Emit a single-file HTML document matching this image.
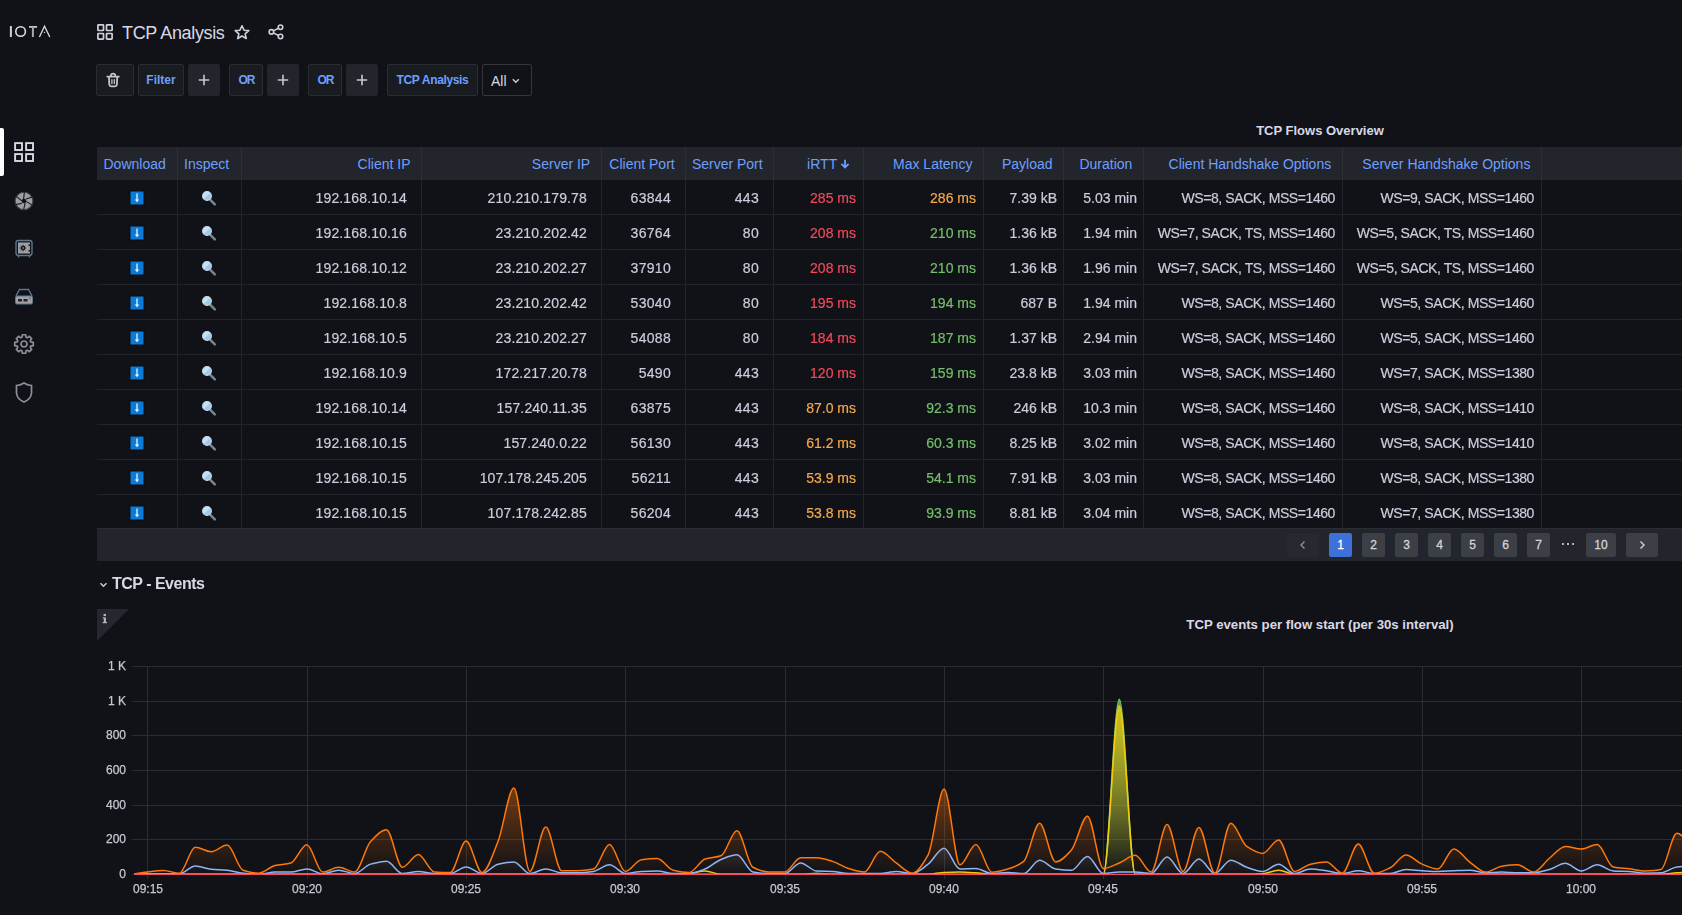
<!DOCTYPE html>
<html><head><meta charset="utf-8">
<style>
*{box-sizing:border-box;margin:0;padding:0}
html,body{width:1682px;height:915px;overflow:hidden;background:#111217;font-family:"Liberation Sans",sans-serif;color:#ccccdc}
.a{position:absolute}
.t{position:absolute;white-space:nowrap}
.btn{position:absolute;top:64px;height:32px;border:1px solid #2a2c32;background:#181b1f;border-radius:2px}
.plus{background:#22252b;border-color:#22252b}
.pg{position:absolute;top:533px;height:24px;border-radius:2px;background:#3d3f46}
</style></head><body>

<svg class="a" style="left:0;top:20px" width="60" height="22" viewBox="0 20 60 22"><g fill="none" stroke="#dcdce2"><path d="M10.9 26V37" stroke-width="2" stroke="#d0d0d6"/><circle cx="20.6" cy="31.5" r="4.8" stroke-width="1.6"/><path d="M29 26.9H37.1" stroke-width="1.8" stroke="#c8c8cc"/><path d="M32.9 26.5V37" stroke-width="2" stroke="#a8a8ac"/><path d="M39.4 37L44.5 26.3L49.8 37" stroke-width="1.3" stroke-linejoin="miter"/></g><circle cx="44.5" cy="32.4" r="0.7" fill="#dcdce2"/></svg>
<div class="a" style="left:0;top:128px;width:4px;height:48px;background:#fff;border-radius:0 2px 2px 0"></div>
<svg class="a" style="left:0;top:0" width="48" height="420" viewBox="0 0 48 420">
<g fill="none" stroke="#d8d8e6" stroke-width="1.9">
<rect x="15.1" y="143.1" width="6.9" height="6.9"/><rect x="26.1" y="143.1" width="6.9" height="6.9"/>
<rect x="15.1" y="154.1" width="6.9" height="6.9"/><rect x="26.1" y="154.1" width="6.9" height="6.9"/>
</g>
<g transform="translate(24,201)">
<circle r="8.8" fill="#9c9ea2" stroke="#3a4b5a" stroke-width="1.1"/>
<g stroke="#15171b" stroke-width="1.1" fill="none">
<path d="M-0.4 -2 L0.4 -8.9"/><path d="M2 -2 L8.2 -4.1"/><path d="M2.2 0.4 L7.6 3.9"/>
<path d="M1.2 1.8 L-0.4 8.9"/><path d="M-2 2.2 L-8.2 3.6"/><path d="M-2.2 -0.1 L-7.6 -4.7"/>
</g>
<circle r="2.3" fill="#111217"/>
</g>
<g>
<rect x="16" y="240.5" width="16" height="15" rx="2.5" fill="none" stroke="#5f7588" stroke-width="1.4"/>
<rect x="18" y="242.5" width="12" height="11" fill="#9ea0a6"/>
<circle cx="23" cy="248" r="2.3" fill="#1a1c20"/><path d="M23 244.6V251.4M19.6 248H26.4M20.6 245.6L25.4 250.4M25.4 245.6L20.6 250.4" stroke="#1a1c20" stroke-width="0.9"/><circle cx="23" cy="248" r="0.8" fill="#b0b2b8"/>
<path d="M29.2 244.2v2M29.2 249.8v2" stroke="#1a1c20" stroke-width="1.3"/>
<path d="M18.5 256v1.5M29.5 256v1.5" stroke="#5f7588" stroke-width="1.4"/>
</g>
<g>
<path d="M16 296 L19.5 289.5 H28.5 L32 296" fill="none" stroke="#5f7588" stroke-width="1.4"/>
<rect x="15.5" y="296" width="17" height="8" rx="1.5" fill="#9ea0a6" stroke="#5f7588" stroke-width="1"/>
<rect x="18" y="299" width="4" height="2.5" fill="#222"/><rect x="23.5" y="299" width="4" height="2.5" fill="#222"/>
<rect x="29" y="297.5" width="1.8" height="1.8" fill="#5f7588"/>
</g>
<g transform="translate(24,344)" fill="none" stroke="#8d8e98" stroke-width="1.7">
<path d="M6.69 -2.05 L9.26 -1.63 L9.26 1.63 L6.69 2.05 L6.18 3.29 L7.70 5.39 L5.39 7.70 L3.29 6.18 L2.05 6.69 L1.63 9.26 L-1.63 9.26 L-2.05 6.69 L-3.29 6.18 L-5.39 7.70 L-7.70 5.39 L-6.18 3.29 L-6.69 2.05 L-9.26 1.63 L-9.26 -1.63 L-6.69 -2.05 L-6.18 -3.29 L-7.70 -5.39 L-5.39 -7.70 L-3.29 -6.18 L-2.05 -6.69 L-1.63 -9.26 L1.63 -9.26 L2.05 -6.69 L3.29 -6.18 L5.39 -7.70 L7.70 -5.39 L6.18 -3.29 Z" stroke-linejoin="round"/>
<circle r="3"/>
</g>
<path d="M24 383 Q28 385.5 31.5 385.5 V393 Q31 399 24 402 Q17 399 16.5 393 V385.5 Q20 385.5 24 383 Z" fill="none" stroke="#8d8e98" stroke-width="1.7"/>
</svg>
<svg class="a" style="left:96px;top:23px" width="18" height="18" viewBox="0 0 18 18"><g fill="none" stroke="#d2d2de" stroke-width="1.7"><rect x="1.9" y="1.9" width="5.6" height="5.6" rx="0.6"/><rect x="10.5" y="1.9" width="5.6" height="5.6" rx="0.6"/><rect x="1.9" y="10.5" width="5.6" height="5.6" rx="0.6"/><rect x="10.5" y="10.5" width="5.6" height="5.6" rx="0.6"/></g></svg>
<div class="t" style="left:122px;top:24.00px;font-size:18px;line-height:18px;color:#d8d9e6;font-weight:400;letter-spacing:-0.35px">TCP Analysis</div>
<svg class="a" style="left:232px;top:23px" width="20" height="18" viewBox="0 0 20 18"><path d="M10.00 2.72 L12.05 7.18 L16.79 7.65 L13.16 10.81 L14.28 15.55 L10.00 13.04 L5.72 15.55 L6.84 10.81 L3.21 7.65 L7.95 7.18 Z" fill="none" stroke="#d0d0dc" stroke-width="1.6" stroke-linejoin="round"/></svg>
<svg class="a" style="left:266px;top:23px" width="20" height="18" viewBox="0 0 20 18"><g fill="none" stroke="#d0d0dc" stroke-width="1.6"><circle cx="14.5" cy="4.3" r="2.25"/><circle cx="5.4" cy="8.9" r="2.25"/><circle cx="14.5" cy="13.5" r="2.25"/><path d="M7.4 7.9 L12.5 5.3 M7.4 9.9 L12.5 12.5"/></g></svg>
<div class="btn" style="left:96px;width:38px;"></div>
<svg class="a" style="left:104px;top:71px" width="18" height="18" viewBox="104 71 18 18"><g fill="none" stroke="#c4c4ce" stroke-width="1.8" stroke-linecap="round"><path d="M109 77.2 L109.3 84.6 Q109.5 86.3 111.2 86.3 H115 Q116.7 86.3 116.9 84.6 L117.2 77.2"/><path d="M107.3 76.6 H118.9"/><path d="M111 76.4 V75.5 Q111 73.6 113.1 73.6 Q115.2 73.6 115.2 75.5 V76.4"/><path d="M111.9 79.6 V83.6 M114.3 79.6 V83.6" stroke-width="1.3"/></g></svg>
<div class="btn" style="left:138px;width:46px;"></div>
<div class="t" style="left:-239px;width:800px;text-align:center;top:74.00px;font-size:12px;line-height:12px;color:#6e9fff;font-weight:700;">Filter</div>
<div class="btn plus" style="left:188px;width:32px;"></div>
<div class="btn" style="left:229px;width:34px;"></div>
<div class="t" style="left:-153.5px;width:800px;text-align:center;top:74.00px;font-size:12px;line-height:12px;color:#6e9fff;font-weight:700;letter-spacing:-0.9px">OR</div>
<div class="btn plus" style="left:267px;width:32px;"></div>
<div class="btn" style="left:308px;width:34px;"></div>
<div class="t" style="left:-74.5px;width:800px;text-align:center;top:74.00px;font-size:12px;line-height:12px;color:#6e9fff;font-weight:700;letter-spacing:-0.9px">OR</div>
<div class="btn plus" style="left:346px;width:32px;"></div>
<svg class="a" style="left:198px;top:74px" width="12" height="12"><path d="M6 0.8V11.2M0.8 6H11.2" stroke="#c8c8d4" stroke-width="1.6"/></svg>
<svg class="a" style="left:277px;top:74px" width="12" height="12"><path d="M6 0.8V11.2M0.8 6H11.2" stroke="#c8c8d4" stroke-width="1.6"/></svg>
<svg class="a" style="left:356px;top:74px" width="12" height="12"><path d="M6 0.8V11.2M0.8 6H11.2" stroke="#c8c8d4" stroke-width="1.6"/></svg>
<div class="btn" style="left:387px;width:91px;"></div>
<div class="t" style="left:32.5px;width:800px;text-align:center;top:74.00px;font-size:12px;line-height:12px;color:#6e9fff;font-weight:400;font-weight:700;letter-spacing:-0.35px">TCP Analysis</div>
<div class="btn" style="left:482px;width:50px;background:#111217;border-color:#34363c"></div>
<div class="t" style="left:491px;top:74.00px;font-size:14px;line-height:14px;color:#d8d9e6;font-weight:400;">All</div>
<svg class="a" style="left:511px;top:77px" width="10" height="8"><path d="M1.8 2.3 L4.8 5.2 L7.8 2.3" fill="none" stroke="#ccccdc" stroke-width="1.4"/></svg>
<div class="t" style="left:920px;width:800px;text-align:center;top:123.60px;font-size:13px;line-height:13px;color:#d8d9e6;font-weight:700;">TCP Flows Overview</div>
<div class="a" style="left:97px;top:147px;width:1585px;height:33px;background:#22252b"></div>
<div class="a" style="left:177px;top:147px;width:1px;height:381px;background:#22242a"></div>
<div class="a" style="left:241px;top:147px;width:1px;height:381px;background:#22242a"></div>
<div class="a" style="left:421px;top:147px;width:1px;height:381px;background:#22242a"></div>
<div class="a" style="left:601px;top:147px;width:1px;height:381px;background:#22242a"></div>
<div class="a" style="left:685px;top:147px;width:1px;height:381px;background:#22242a"></div>
<div class="a" style="left:773px;top:147px;width:1px;height:381px;background:#22242a"></div>
<div class="a" style="left:863px;top:147px;width:1px;height:381px;background:#22242a"></div>
<div class="a" style="left:983px;top:147px;width:1px;height:381px;background:#22242a"></div>
<div class="a" style="left:1063px;top:147px;width:1px;height:381px;background:#22242a"></div>
<div class="a" style="left:1143px;top:147px;width:1px;height:381px;background:#22242a"></div>
<div class="a" style="left:1342px;top:147px;width:1px;height:381px;background:#22242a"></div>
<div class="a" style="left:1541px;top:147px;width:1px;height:381px;background:#22242a"></div>
<div class="a" style="left:177px;top:147px;width:1px;height:33px;background:#2c2f35"></div>
<div class="a" style="left:241px;top:147px;width:1px;height:33px;background:#2c2f35"></div>
<div class="a" style="left:421px;top:147px;width:1px;height:33px;background:#2c2f35"></div>
<div class="a" style="left:601px;top:147px;width:1px;height:33px;background:#2c2f35"></div>
<div class="a" style="left:685px;top:147px;width:1px;height:33px;background:#2c2f35"></div>
<div class="a" style="left:773px;top:147px;width:1px;height:33px;background:#2c2f35"></div>
<div class="a" style="left:863px;top:147px;width:1px;height:33px;background:#2c2f35"></div>
<div class="a" style="left:983px;top:147px;width:1px;height:33px;background:#2c2f35"></div>
<div class="a" style="left:1063px;top:147px;width:1px;height:33px;background:#2c2f35"></div>
<div class="a" style="left:1143px;top:147px;width:1px;height:33px;background:#2c2f35"></div>
<div class="a" style="left:1342px;top:147px;width:1px;height:33px;background:#2c2f35"></div>
<div class="a" style="left:1541px;top:147px;width:1px;height:33px;background:#2c2f35"></div>
<div class="a" style="left:97px;top:214px;width:1585px;height:1px;background:#22242a"></div>
<div class="a" style="left:97px;top:249px;width:1585px;height:1px;background:#22242a"></div>
<div class="a" style="left:97px;top:284px;width:1585px;height:1px;background:#22242a"></div>
<div class="a" style="left:97px;top:319px;width:1585px;height:1px;background:#22242a"></div>
<div class="a" style="left:97px;top:354px;width:1585px;height:1px;background:#22242a"></div>
<div class="a" style="left:97px;top:389px;width:1585px;height:1px;background:#22242a"></div>
<div class="a" style="left:97px;top:424px;width:1585px;height:1px;background:#22242a"></div>
<div class="a" style="left:97px;top:459px;width:1585px;height:1px;background:#22242a"></div>
<div class="a" style="left:97px;top:494px;width:1585px;height:1px;background:#22242a"></div>
<div class="t" style="left:103.5px;top:157.20px;font-size:14px;line-height:14px;color:#6e9fff;font-weight:400;">Download</div>
<div class="t" style="left:184px;top:157.20px;font-size:14px;line-height:14px;color:#6e9fff;font-weight:400;">Inspect</div>
<div class="t" style="left:-189.5px;width:600px;text-align:right;top:157.20px;font-size:14px;line-height:14px;color:#6e9fff;font-weight:400;">Client IP</div>
<div class="t" style="left:-9.799999999999955px;width:600px;text-align:right;top:157.20px;font-size:14px;line-height:14px;color:#6e9fff;font-weight:400;">Server IP</div>
<div class="t" style="left:74.70000000000005px;width:600px;text-align:right;top:157.20px;font-size:14px;line-height:14px;color:#6e9fff;font-weight:400;">Client Port</div>
<div class="t" style="left:162.70000000000005px;width:600px;text-align:right;top:157.20px;font-size:14px;line-height:14px;color:#6e9fff;font-weight:400;">Server Port</div>
<div class="t" style="left:372.4px;width:600px;text-align:right;top:157.20px;font-size:14px;line-height:14px;color:#6e9fff;font-weight:400;">Max Latency</div>
<div class="t" style="left:452.5px;width:600px;text-align:right;top:157.20px;font-size:14px;line-height:14px;color:#6e9fff;font-weight:400;">Payload</div>
<div class="t" style="left:532.4000000000001px;width:600px;text-align:right;top:157.20px;font-size:14px;line-height:14px;color:#6e9fff;font-weight:400;">Duration</div>
<div class="t" style="left:731.2px;width:600px;text-align:right;top:157.20px;font-size:14px;line-height:14px;color:#6e9fff;font-weight:400;">Client Handshake Options</div>
<div class="t" style="left:930.4000000000001px;width:600px;text-align:right;top:157.20px;font-size:14px;line-height:14px;color:#6e9fff;font-weight:400;">Server Handshake Options</div>
<div class="t" style="left:237.20000000000005px;width:600px;text-align:right;top:157.20px;font-size:14px;line-height:14px;color:#6e9fff;font-weight:400;">iRTT</div>
<svg class="a" style="left:838px;top:156px" width="14" height="14" viewBox="838 156 14 14"><path d="M845 159.8V167.2M841.4 163.9L845 167.5L848.6 163.9" fill="none" stroke="#6e9fff" stroke-width="1.8"/></svg>
<div class="t" style="left:-192.85000000000002px;width:600px;text-align:right;top:191.00px;font-size:14px;line-height:14px;color:#ccccdc;font-weight:400;will-change:transform;-webkit-text-stroke:0.2px #ccccdc;letter-spacing:0.15px">192.168.10.14</div>
<div class="t" style="left:-13.149999999999977px;width:600px;text-align:right;top:191.00px;font-size:14px;line-height:14px;color:#ccccdc;font-weight:400;will-change:transform;-webkit-text-stroke:0.2px #ccccdc;letter-spacing:0.15px">210.210.179.78</div>
<div class="t" style="left:70.89999999999998px;width:600px;text-align:right;top:191.00px;font-size:14px;line-height:14px;color:#ccccdc;font-weight:400;will-change:transform;-webkit-text-stroke:0.2px #ccccdc;letter-spacing:0.3px">63844</div>
<div class="t" style="left:158.89999999999998px;width:600px;text-align:right;top:191.00px;font-size:14px;line-height:14px;color:#ccccdc;font-weight:400;will-change:transform;-webkit-text-stroke:0.2px #ccccdc;letter-spacing:0.3px">443</div>
<div class="t" style="left:256.29999999999995px;width:600px;text-align:right;top:191.00px;font-size:14px;line-height:14px;color:#f2495c;font-weight:400;will-change:transform;-webkit-text-stroke:0.2px #f2495c;">285 ms</div>
<div class="t" style="left:376.4px;width:600px;text-align:right;top:191.00px;font-size:14px;line-height:14px;color:#f5a84c;font-weight:400;will-change:transform;-webkit-text-stroke:0.2px #f5a84c;">286 ms</div>
<div class="t" style="left:456.5999999999999px;width:600px;text-align:right;top:191.00px;font-size:14px;line-height:14px;color:#ccccdc;font-weight:400;will-change:transform;-webkit-text-stroke:0.2px #ccccdc;">7.39 kB</div>
<div class="t" style="left:536.5px;width:600px;text-align:right;top:191.00px;font-size:14px;line-height:14px;color:#ccccdc;font-weight:400;will-change:transform;-webkit-text-stroke:0.2px #ccccdc;">5.03 min</div>
<div class="t" style="left:735.4000000000001px;width:600px;text-align:right;top:191.00px;font-size:14px;line-height:14px;color:#ccccdc;font-weight:400;will-change:transform;-webkit-text-stroke:0.2px #ccccdc;letter-spacing:-0.42px">WS=8, SACK, MSS=1460</div>
<div class="t" style="left:934.3px;width:600px;text-align:right;top:191.00px;font-size:14px;line-height:14px;color:#ccccdc;font-weight:400;will-change:transform;-webkit-text-stroke:0.2px #ccccdc;letter-spacing:-0.42px">WS=9, SACK, MSS=1460</div>
<svg class="a" style="left:129px;top:190px" width="16" height="16" viewBox="0 0 16 16"><rect x="0.5" y="0.5" width="15" height="15" fill="#0a0a0c"/><rect x="1.5" y="1.5" width="13" height="13" fill="#0a7bd8"/><path d="M8 3.5V11" stroke="#f0f4ff" stroke-width="1.3"/><path d="M5.8 9.6L8 12.2L10.2 9.6Z" fill="#f0f4ff"/></svg>
<svg class="a" style="left:200px;top:190px" width="18" height="18" viewBox="0 0 18 18"><path d="M10.3 9.9L14.8 14.3" stroke="#78868e" stroke-width="2.5" stroke-linecap="round"/><circle cx="7" cy="6" r="4.4" fill="#9ccbef" stroke="#cfd8de" stroke-width="1.1"/><path d="M3.9 9.1A4.4 4.4 0 0 1 10.1 2.9Z" fill="#c2e2f8"/></svg>
<div class="t" style="left:-192.85000000000002px;width:600px;text-align:right;top:226.00px;font-size:14px;line-height:14px;color:#ccccdc;font-weight:400;will-change:transform;-webkit-text-stroke:0.2px #ccccdc;letter-spacing:0.15px">192.168.10.16</div>
<div class="t" style="left:-13.149999999999977px;width:600px;text-align:right;top:226.00px;font-size:14px;line-height:14px;color:#ccccdc;font-weight:400;will-change:transform;-webkit-text-stroke:0.2px #ccccdc;letter-spacing:0.15px">23.210.202.42</div>
<div class="t" style="left:70.89999999999998px;width:600px;text-align:right;top:226.00px;font-size:14px;line-height:14px;color:#ccccdc;font-weight:400;will-change:transform;-webkit-text-stroke:0.2px #ccccdc;letter-spacing:0.3px">36764</div>
<div class="t" style="left:158.89999999999998px;width:600px;text-align:right;top:226.00px;font-size:14px;line-height:14px;color:#ccccdc;font-weight:400;will-change:transform;-webkit-text-stroke:0.2px #ccccdc;letter-spacing:0.3px">80</div>
<div class="t" style="left:256.29999999999995px;width:600px;text-align:right;top:226.00px;font-size:14px;line-height:14px;color:#f2495c;font-weight:400;will-change:transform;-webkit-text-stroke:0.2px #f2495c;">208 ms</div>
<div class="t" style="left:376.4px;width:600px;text-align:right;top:226.00px;font-size:14px;line-height:14px;color:#73bf69;font-weight:400;will-change:transform;-webkit-text-stroke:0.2px #73bf69;">210 ms</div>
<div class="t" style="left:456.5999999999999px;width:600px;text-align:right;top:226.00px;font-size:14px;line-height:14px;color:#ccccdc;font-weight:400;will-change:transform;-webkit-text-stroke:0.2px #ccccdc;">1.36 kB</div>
<div class="t" style="left:536.5px;width:600px;text-align:right;top:226.00px;font-size:14px;line-height:14px;color:#ccccdc;font-weight:400;will-change:transform;-webkit-text-stroke:0.2px #ccccdc;">1.94 min</div>
<div class="t" style="left:735.4000000000001px;width:600px;text-align:right;top:226.00px;font-size:14px;line-height:14px;color:#ccccdc;font-weight:400;will-change:transform;-webkit-text-stroke:0.2px #ccccdc;letter-spacing:-0.42px">WS=7, SACK, TS, MSS=1460</div>
<div class="t" style="left:934.3px;width:600px;text-align:right;top:226.00px;font-size:14px;line-height:14px;color:#ccccdc;font-weight:400;will-change:transform;-webkit-text-stroke:0.2px #ccccdc;letter-spacing:-0.42px">WS=5, SACK, TS, MSS=1460</div>
<svg class="a" style="left:129px;top:225px" width="16" height="16" viewBox="0 0 16 16"><rect x="0.5" y="0.5" width="15" height="15" fill="#0a0a0c"/><rect x="1.5" y="1.5" width="13" height="13" fill="#0a7bd8"/><path d="M8 3.5V11" stroke="#f0f4ff" stroke-width="1.3"/><path d="M5.8 9.6L8 12.2L10.2 9.6Z" fill="#f0f4ff"/></svg>
<svg class="a" style="left:200px;top:225px" width="18" height="18" viewBox="0 0 18 18"><path d="M10.3 9.9L14.8 14.3" stroke="#78868e" stroke-width="2.5" stroke-linecap="round"/><circle cx="7" cy="6" r="4.4" fill="#9ccbef" stroke="#cfd8de" stroke-width="1.1"/><path d="M3.9 9.1A4.4 4.4 0 0 1 10.1 2.9Z" fill="#c2e2f8"/></svg>
<div class="t" style="left:-192.85000000000002px;width:600px;text-align:right;top:261.00px;font-size:14px;line-height:14px;color:#ccccdc;font-weight:400;will-change:transform;-webkit-text-stroke:0.2px #ccccdc;letter-spacing:0.15px">192.168.10.12</div>
<div class="t" style="left:-13.149999999999977px;width:600px;text-align:right;top:261.00px;font-size:14px;line-height:14px;color:#ccccdc;font-weight:400;will-change:transform;-webkit-text-stroke:0.2px #ccccdc;letter-spacing:0.15px">23.210.202.27</div>
<div class="t" style="left:70.89999999999998px;width:600px;text-align:right;top:261.00px;font-size:14px;line-height:14px;color:#ccccdc;font-weight:400;will-change:transform;-webkit-text-stroke:0.2px #ccccdc;letter-spacing:0.3px">37910</div>
<div class="t" style="left:158.89999999999998px;width:600px;text-align:right;top:261.00px;font-size:14px;line-height:14px;color:#ccccdc;font-weight:400;will-change:transform;-webkit-text-stroke:0.2px #ccccdc;letter-spacing:0.3px">80</div>
<div class="t" style="left:256.29999999999995px;width:600px;text-align:right;top:261.00px;font-size:14px;line-height:14px;color:#f2495c;font-weight:400;will-change:transform;-webkit-text-stroke:0.2px #f2495c;">208 ms</div>
<div class="t" style="left:376.4px;width:600px;text-align:right;top:261.00px;font-size:14px;line-height:14px;color:#73bf69;font-weight:400;will-change:transform;-webkit-text-stroke:0.2px #73bf69;">210 ms</div>
<div class="t" style="left:456.5999999999999px;width:600px;text-align:right;top:261.00px;font-size:14px;line-height:14px;color:#ccccdc;font-weight:400;will-change:transform;-webkit-text-stroke:0.2px #ccccdc;">1.36 kB</div>
<div class="t" style="left:536.5px;width:600px;text-align:right;top:261.00px;font-size:14px;line-height:14px;color:#ccccdc;font-weight:400;will-change:transform;-webkit-text-stroke:0.2px #ccccdc;">1.96 min</div>
<div class="t" style="left:735.4000000000001px;width:600px;text-align:right;top:261.00px;font-size:14px;line-height:14px;color:#ccccdc;font-weight:400;will-change:transform;-webkit-text-stroke:0.2px #ccccdc;letter-spacing:-0.42px">WS=7, SACK, TS, MSS=1460</div>
<div class="t" style="left:934.3px;width:600px;text-align:right;top:261.00px;font-size:14px;line-height:14px;color:#ccccdc;font-weight:400;will-change:transform;-webkit-text-stroke:0.2px #ccccdc;letter-spacing:-0.42px">WS=5, SACK, TS, MSS=1460</div>
<svg class="a" style="left:129px;top:260px" width="16" height="16" viewBox="0 0 16 16"><rect x="0.5" y="0.5" width="15" height="15" fill="#0a0a0c"/><rect x="1.5" y="1.5" width="13" height="13" fill="#0a7bd8"/><path d="M8 3.5V11" stroke="#f0f4ff" stroke-width="1.3"/><path d="M5.8 9.6L8 12.2L10.2 9.6Z" fill="#f0f4ff"/></svg>
<svg class="a" style="left:200px;top:260px" width="18" height="18" viewBox="0 0 18 18"><path d="M10.3 9.9L14.8 14.3" stroke="#78868e" stroke-width="2.5" stroke-linecap="round"/><circle cx="7" cy="6" r="4.4" fill="#9ccbef" stroke="#cfd8de" stroke-width="1.1"/><path d="M3.9 9.1A4.4 4.4 0 0 1 10.1 2.9Z" fill="#c2e2f8"/></svg>
<div class="t" style="left:-192.85000000000002px;width:600px;text-align:right;top:296.00px;font-size:14px;line-height:14px;color:#ccccdc;font-weight:400;will-change:transform;-webkit-text-stroke:0.2px #ccccdc;letter-spacing:0.15px">192.168.10.8</div>
<div class="t" style="left:-13.149999999999977px;width:600px;text-align:right;top:296.00px;font-size:14px;line-height:14px;color:#ccccdc;font-weight:400;will-change:transform;-webkit-text-stroke:0.2px #ccccdc;letter-spacing:0.15px">23.210.202.42</div>
<div class="t" style="left:70.89999999999998px;width:600px;text-align:right;top:296.00px;font-size:14px;line-height:14px;color:#ccccdc;font-weight:400;will-change:transform;-webkit-text-stroke:0.2px #ccccdc;letter-spacing:0.3px">53040</div>
<div class="t" style="left:158.89999999999998px;width:600px;text-align:right;top:296.00px;font-size:14px;line-height:14px;color:#ccccdc;font-weight:400;will-change:transform;-webkit-text-stroke:0.2px #ccccdc;letter-spacing:0.3px">80</div>
<div class="t" style="left:256.29999999999995px;width:600px;text-align:right;top:296.00px;font-size:14px;line-height:14px;color:#f2495c;font-weight:400;will-change:transform;-webkit-text-stroke:0.2px #f2495c;">195 ms</div>
<div class="t" style="left:376.4px;width:600px;text-align:right;top:296.00px;font-size:14px;line-height:14px;color:#73bf69;font-weight:400;will-change:transform;-webkit-text-stroke:0.2px #73bf69;">194 ms</div>
<div class="t" style="left:456.5999999999999px;width:600px;text-align:right;top:296.00px;font-size:14px;line-height:14px;color:#ccccdc;font-weight:400;will-change:transform;-webkit-text-stroke:0.2px #ccccdc;">687 B</div>
<div class="t" style="left:536.5px;width:600px;text-align:right;top:296.00px;font-size:14px;line-height:14px;color:#ccccdc;font-weight:400;will-change:transform;-webkit-text-stroke:0.2px #ccccdc;">1.94 min</div>
<div class="t" style="left:735.4000000000001px;width:600px;text-align:right;top:296.00px;font-size:14px;line-height:14px;color:#ccccdc;font-weight:400;will-change:transform;-webkit-text-stroke:0.2px #ccccdc;letter-spacing:-0.42px">WS=8, SACK, MSS=1460</div>
<div class="t" style="left:934.3px;width:600px;text-align:right;top:296.00px;font-size:14px;line-height:14px;color:#ccccdc;font-weight:400;will-change:transform;-webkit-text-stroke:0.2px #ccccdc;letter-spacing:-0.42px">WS=5, SACK, MSS=1460</div>
<svg class="a" style="left:129px;top:295px" width="16" height="16" viewBox="0 0 16 16"><rect x="0.5" y="0.5" width="15" height="15" fill="#0a0a0c"/><rect x="1.5" y="1.5" width="13" height="13" fill="#0a7bd8"/><path d="M8 3.5V11" stroke="#f0f4ff" stroke-width="1.3"/><path d="M5.8 9.6L8 12.2L10.2 9.6Z" fill="#f0f4ff"/></svg>
<svg class="a" style="left:200px;top:295px" width="18" height="18" viewBox="0 0 18 18"><path d="M10.3 9.9L14.8 14.3" stroke="#78868e" stroke-width="2.5" stroke-linecap="round"/><circle cx="7" cy="6" r="4.4" fill="#9ccbef" stroke="#cfd8de" stroke-width="1.1"/><path d="M3.9 9.1A4.4 4.4 0 0 1 10.1 2.9Z" fill="#c2e2f8"/></svg>
<div class="t" style="left:-192.85000000000002px;width:600px;text-align:right;top:331.00px;font-size:14px;line-height:14px;color:#ccccdc;font-weight:400;will-change:transform;-webkit-text-stroke:0.2px #ccccdc;letter-spacing:0.15px">192.168.10.5</div>
<div class="t" style="left:-13.149999999999977px;width:600px;text-align:right;top:331.00px;font-size:14px;line-height:14px;color:#ccccdc;font-weight:400;will-change:transform;-webkit-text-stroke:0.2px #ccccdc;letter-spacing:0.15px">23.210.202.27</div>
<div class="t" style="left:70.89999999999998px;width:600px;text-align:right;top:331.00px;font-size:14px;line-height:14px;color:#ccccdc;font-weight:400;will-change:transform;-webkit-text-stroke:0.2px #ccccdc;letter-spacing:0.3px">54088</div>
<div class="t" style="left:158.89999999999998px;width:600px;text-align:right;top:331.00px;font-size:14px;line-height:14px;color:#ccccdc;font-weight:400;will-change:transform;-webkit-text-stroke:0.2px #ccccdc;letter-spacing:0.3px">80</div>
<div class="t" style="left:256.29999999999995px;width:600px;text-align:right;top:331.00px;font-size:14px;line-height:14px;color:#f2495c;font-weight:400;will-change:transform;-webkit-text-stroke:0.2px #f2495c;">184 ms</div>
<div class="t" style="left:376.4px;width:600px;text-align:right;top:331.00px;font-size:14px;line-height:14px;color:#73bf69;font-weight:400;will-change:transform;-webkit-text-stroke:0.2px #73bf69;">187 ms</div>
<div class="t" style="left:456.5999999999999px;width:600px;text-align:right;top:331.00px;font-size:14px;line-height:14px;color:#ccccdc;font-weight:400;will-change:transform;-webkit-text-stroke:0.2px #ccccdc;">1.37 kB</div>
<div class="t" style="left:536.5px;width:600px;text-align:right;top:331.00px;font-size:14px;line-height:14px;color:#ccccdc;font-weight:400;will-change:transform;-webkit-text-stroke:0.2px #ccccdc;">2.94 min</div>
<div class="t" style="left:735.4000000000001px;width:600px;text-align:right;top:331.00px;font-size:14px;line-height:14px;color:#ccccdc;font-weight:400;will-change:transform;-webkit-text-stroke:0.2px #ccccdc;letter-spacing:-0.42px">WS=8, SACK, MSS=1460</div>
<div class="t" style="left:934.3px;width:600px;text-align:right;top:331.00px;font-size:14px;line-height:14px;color:#ccccdc;font-weight:400;will-change:transform;-webkit-text-stroke:0.2px #ccccdc;letter-spacing:-0.42px">WS=5, SACK, MSS=1460</div>
<svg class="a" style="left:129px;top:330px" width="16" height="16" viewBox="0 0 16 16"><rect x="0.5" y="0.5" width="15" height="15" fill="#0a0a0c"/><rect x="1.5" y="1.5" width="13" height="13" fill="#0a7bd8"/><path d="M8 3.5V11" stroke="#f0f4ff" stroke-width="1.3"/><path d="M5.8 9.6L8 12.2L10.2 9.6Z" fill="#f0f4ff"/></svg>
<svg class="a" style="left:200px;top:330px" width="18" height="18" viewBox="0 0 18 18"><path d="M10.3 9.9L14.8 14.3" stroke="#78868e" stroke-width="2.5" stroke-linecap="round"/><circle cx="7" cy="6" r="4.4" fill="#9ccbef" stroke="#cfd8de" stroke-width="1.1"/><path d="M3.9 9.1A4.4 4.4 0 0 1 10.1 2.9Z" fill="#c2e2f8"/></svg>
<div class="t" style="left:-192.85000000000002px;width:600px;text-align:right;top:366.00px;font-size:14px;line-height:14px;color:#ccccdc;font-weight:400;will-change:transform;-webkit-text-stroke:0.2px #ccccdc;letter-spacing:0.15px">192.168.10.9</div>
<div class="t" style="left:-13.149999999999977px;width:600px;text-align:right;top:366.00px;font-size:14px;line-height:14px;color:#ccccdc;font-weight:400;will-change:transform;-webkit-text-stroke:0.2px #ccccdc;letter-spacing:0.15px">172.217.20.78</div>
<div class="t" style="left:70.89999999999998px;width:600px;text-align:right;top:366.00px;font-size:14px;line-height:14px;color:#ccccdc;font-weight:400;will-change:transform;-webkit-text-stroke:0.2px #ccccdc;letter-spacing:0.3px">5490</div>
<div class="t" style="left:158.89999999999998px;width:600px;text-align:right;top:366.00px;font-size:14px;line-height:14px;color:#ccccdc;font-weight:400;will-change:transform;-webkit-text-stroke:0.2px #ccccdc;letter-spacing:0.3px">443</div>
<div class="t" style="left:256.29999999999995px;width:600px;text-align:right;top:366.00px;font-size:14px;line-height:14px;color:#f2495c;font-weight:400;will-change:transform;-webkit-text-stroke:0.2px #f2495c;">120 ms</div>
<div class="t" style="left:376.4px;width:600px;text-align:right;top:366.00px;font-size:14px;line-height:14px;color:#73bf69;font-weight:400;will-change:transform;-webkit-text-stroke:0.2px #73bf69;">159 ms</div>
<div class="t" style="left:456.5999999999999px;width:600px;text-align:right;top:366.00px;font-size:14px;line-height:14px;color:#ccccdc;font-weight:400;will-change:transform;-webkit-text-stroke:0.2px #ccccdc;">23.8 kB</div>
<div class="t" style="left:536.5px;width:600px;text-align:right;top:366.00px;font-size:14px;line-height:14px;color:#ccccdc;font-weight:400;will-change:transform;-webkit-text-stroke:0.2px #ccccdc;">3.03 min</div>
<div class="t" style="left:735.4000000000001px;width:600px;text-align:right;top:366.00px;font-size:14px;line-height:14px;color:#ccccdc;font-weight:400;will-change:transform;-webkit-text-stroke:0.2px #ccccdc;letter-spacing:-0.42px">WS=8, SACK, MSS=1460</div>
<div class="t" style="left:934.3px;width:600px;text-align:right;top:366.00px;font-size:14px;line-height:14px;color:#ccccdc;font-weight:400;will-change:transform;-webkit-text-stroke:0.2px #ccccdc;letter-spacing:-0.42px">WS=7, SACK, MSS=1380</div>
<svg class="a" style="left:129px;top:365px" width="16" height="16" viewBox="0 0 16 16"><rect x="0.5" y="0.5" width="15" height="15" fill="#0a0a0c"/><rect x="1.5" y="1.5" width="13" height="13" fill="#0a7bd8"/><path d="M8 3.5V11" stroke="#f0f4ff" stroke-width="1.3"/><path d="M5.8 9.6L8 12.2L10.2 9.6Z" fill="#f0f4ff"/></svg>
<svg class="a" style="left:200px;top:365px" width="18" height="18" viewBox="0 0 18 18"><path d="M10.3 9.9L14.8 14.3" stroke="#78868e" stroke-width="2.5" stroke-linecap="round"/><circle cx="7" cy="6" r="4.4" fill="#9ccbef" stroke="#cfd8de" stroke-width="1.1"/><path d="M3.9 9.1A4.4 4.4 0 0 1 10.1 2.9Z" fill="#c2e2f8"/></svg>
<div class="t" style="left:-192.85000000000002px;width:600px;text-align:right;top:401.00px;font-size:14px;line-height:14px;color:#ccccdc;font-weight:400;will-change:transform;-webkit-text-stroke:0.2px #ccccdc;letter-spacing:0.15px">192.168.10.14</div>
<div class="t" style="left:-13.149999999999977px;width:600px;text-align:right;top:401.00px;font-size:14px;line-height:14px;color:#ccccdc;font-weight:400;will-change:transform;-webkit-text-stroke:0.2px #ccccdc;letter-spacing:0.15px">157.240.11.35</div>
<div class="t" style="left:70.89999999999998px;width:600px;text-align:right;top:401.00px;font-size:14px;line-height:14px;color:#ccccdc;font-weight:400;will-change:transform;-webkit-text-stroke:0.2px #ccccdc;letter-spacing:0.3px">63875</div>
<div class="t" style="left:158.89999999999998px;width:600px;text-align:right;top:401.00px;font-size:14px;line-height:14px;color:#ccccdc;font-weight:400;will-change:transform;-webkit-text-stroke:0.2px #ccccdc;letter-spacing:0.3px">443</div>
<div class="t" style="left:256.29999999999995px;width:600px;text-align:right;top:401.00px;font-size:14px;line-height:14px;color:#f5a84c;font-weight:400;will-change:transform;-webkit-text-stroke:0.2px #f5a84c;">87.0 ms</div>
<div class="t" style="left:376.4px;width:600px;text-align:right;top:401.00px;font-size:14px;line-height:14px;color:#73bf69;font-weight:400;will-change:transform;-webkit-text-stroke:0.2px #73bf69;">92.3 ms</div>
<div class="t" style="left:456.5999999999999px;width:600px;text-align:right;top:401.00px;font-size:14px;line-height:14px;color:#ccccdc;font-weight:400;will-change:transform;-webkit-text-stroke:0.2px #ccccdc;">246 kB</div>
<div class="t" style="left:536.5px;width:600px;text-align:right;top:401.00px;font-size:14px;line-height:14px;color:#ccccdc;font-weight:400;will-change:transform;-webkit-text-stroke:0.2px #ccccdc;">10.3 min</div>
<div class="t" style="left:735.4000000000001px;width:600px;text-align:right;top:401.00px;font-size:14px;line-height:14px;color:#ccccdc;font-weight:400;will-change:transform;-webkit-text-stroke:0.2px #ccccdc;letter-spacing:-0.42px">WS=8, SACK, MSS=1460</div>
<div class="t" style="left:934.3px;width:600px;text-align:right;top:401.00px;font-size:14px;line-height:14px;color:#ccccdc;font-weight:400;will-change:transform;-webkit-text-stroke:0.2px #ccccdc;letter-spacing:-0.42px">WS=8, SACK, MSS=1410</div>
<svg class="a" style="left:129px;top:400px" width="16" height="16" viewBox="0 0 16 16"><rect x="0.5" y="0.5" width="15" height="15" fill="#0a0a0c"/><rect x="1.5" y="1.5" width="13" height="13" fill="#0a7bd8"/><path d="M8 3.5V11" stroke="#f0f4ff" stroke-width="1.3"/><path d="M5.8 9.6L8 12.2L10.2 9.6Z" fill="#f0f4ff"/></svg>
<svg class="a" style="left:200px;top:400px" width="18" height="18" viewBox="0 0 18 18"><path d="M10.3 9.9L14.8 14.3" stroke="#78868e" stroke-width="2.5" stroke-linecap="round"/><circle cx="7" cy="6" r="4.4" fill="#9ccbef" stroke="#cfd8de" stroke-width="1.1"/><path d="M3.9 9.1A4.4 4.4 0 0 1 10.1 2.9Z" fill="#c2e2f8"/></svg>
<div class="t" style="left:-192.85000000000002px;width:600px;text-align:right;top:436.00px;font-size:14px;line-height:14px;color:#ccccdc;font-weight:400;will-change:transform;-webkit-text-stroke:0.2px #ccccdc;letter-spacing:0.15px">192.168.10.15</div>
<div class="t" style="left:-13.149999999999977px;width:600px;text-align:right;top:436.00px;font-size:14px;line-height:14px;color:#ccccdc;font-weight:400;will-change:transform;-webkit-text-stroke:0.2px #ccccdc;letter-spacing:0.15px">157.240.0.22</div>
<div class="t" style="left:70.89999999999998px;width:600px;text-align:right;top:436.00px;font-size:14px;line-height:14px;color:#ccccdc;font-weight:400;will-change:transform;-webkit-text-stroke:0.2px #ccccdc;letter-spacing:0.3px">56130</div>
<div class="t" style="left:158.89999999999998px;width:600px;text-align:right;top:436.00px;font-size:14px;line-height:14px;color:#ccccdc;font-weight:400;will-change:transform;-webkit-text-stroke:0.2px #ccccdc;letter-spacing:0.3px">443</div>
<div class="t" style="left:256.29999999999995px;width:600px;text-align:right;top:436.00px;font-size:14px;line-height:14px;color:#f5a84c;font-weight:400;will-change:transform;-webkit-text-stroke:0.2px #f5a84c;">61.2 ms</div>
<div class="t" style="left:376.4px;width:600px;text-align:right;top:436.00px;font-size:14px;line-height:14px;color:#73bf69;font-weight:400;will-change:transform;-webkit-text-stroke:0.2px #73bf69;">60.3 ms</div>
<div class="t" style="left:456.5999999999999px;width:600px;text-align:right;top:436.00px;font-size:14px;line-height:14px;color:#ccccdc;font-weight:400;will-change:transform;-webkit-text-stroke:0.2px #ccccdc;">8.25 kB</div>
<div class="t" style="left:536.5px;width:600px;text-align:right;top:436.00px;font-size:14px;line-height:14px;color:#ccccdc;font-weight:400;will-change:transform;-webkit-text-stroke:0.2px #ccccdc;">3.02 min</div>
<div class="t" style="left:735.4000000000001px;width:600px;text-align:right;top:436.00px;font-size:14px;line-height:14px;color:#ccccdc;font-weight:400;will-change:transform;-webkit-text-stroke:0.2px #ccccdc;letter-spacing:-0.42px">WS=8, SACK, MSS=1460</div>
<div class="t" style="left:934.3px;width:600px;text-align:right;top:436.00px;font-size:14px;line-height:14px;color:#ccccdc;font-weight:400;will-change:transform;-webkit-text-stroke:0.2px #ccccdc;letter-spacing:-0.42px">WS=8, SACK, MSS=1410</div>
<svg class="a" style="left:129px;top:435px" width="16" height="16" viewBox="0 0 16 16"><rect x="0.5" y="0.5" width="15" height="15" fill="#0a0a0c"/><rect x="1.5" y="1.5" width="13" height="13" fill="#0a7bd8"/><path d="M8 3.5V11" stroke="#f0f4ff" stroke-width="1.3"/><path d="M5.8 9.6L8 12.2L10.2 9.6Z" fill="#f0f4ff"/></svg>
<svg class="a" style="left:200px;top:435px" width="18" height="18" viewBox="0 0 18 18"><path d="M10.3 9.9L14.8 14.3" stroke="#78868e" stroke-width="2.5" stroke-linecap="round"/><circle cx="7" cy="6" r="4.4" fill="#9ccbef" stroke="#cfd8de" stroke-width="1.1"/><path d="M3.9 9.1A4.4 4.4 0 0 1 10.1 2.9Z" fill="#c2e2f8"/></svg>
<div class="t" style="left:-192.85000000000002px;width:600px;text-align:right;top:471.00px;font-size:14px;line-height:14px;color:#ccccdc;font-weight:400;will-change:transform;-webkit-text-stroke:0.2px #ccccdc;letter-spacing:0.15px">192.168.10.15</div>
<div class="t" style="left:-13.149999999999977px;width:600px;text-align:right;top:471.00px;font-size:14px;line-height:14px;color:#ccccdc;font-weight:400;will-change:transform;-webkit-text-stroke:0.2px #ccccdc;letter-spacing:0.15px">107.178.245.205</div>
<div class="t" style="left:70.89999999999998px;width:600px;text-align:right;top:471.00px;font-size:14px;line-height:14px;color:#ccccdc;font-weight:400;will-change:transform;-webkit-text-stroke:0.2px #ccccdc;letter-spacing:0.3px">56211</div>
<div class="t" style="left:158.89999999999998px;width:600px;text-align:right;top:471.00px;font-size:14px;line-height:14px;color:#ccccdc;font-weight:400;will-change:transform;-webkit-text-stroke:0.2px #ccccdc;letter-spacing:0.3px">443</div>
<div class="t" style="left:256.29999999999995px;width:600px;text-align:right;top:471.00px;font-size:14px;line-height:14px;color:#f5a84c;font-weight:400;will-change:transform;-webkit-text-stroke:0.2px #f5a84c;">53.9 ms</div>
<div class="t" style="left:376.4px;width:600px;text-align:right;top:471.00px;font-size:14px;line-height:14px;color:#73bf69;font-weight:400;will-change:transform;-webkit-text-stroke:0.2px #73bf69;">54.1 ms</div>
<div class="t" style="left:456.5999999999999px;width:600px;text-align:right;top:471.00px;font-size:14px;line-height:14px;color:#ccccdc;font-weight:400;will-change:transform;-webkit-text-stroke:0.2px #ccccdc;">7.91 kB</div>
<div class="t" style="left:536.5px;width:600px;text-align:right;top:471.00px;font-size:14px;line-height:14px;color:#ccccdc;font-weight:400;will-change:transform;-webkit-text-stroke:0.2px #ccccdc;">3.03 min</div>
<div class="t" style="left:735.4000000000001px;width:600px;text-align:right;top:471.00px;font-size:14px;line-height:14px;color:#ccccdc;font-weight:400;will-change:transform;-webkit-text-stroke:0.2px #ccccdc;letter-spacing:-0.42px">WS=8, SACK, MSS=1460</div>
<div class="t" style="left:934.3px;width:600px;text-align:right;top:471.00px;font-size:14px;line-height:14px;color:#ccccdc;font-weight:400;will-change:transform;-webkit-text-stroke:0.2px #ccccdc;letter-spacing:-0.42px">WS=8, SACK, MSS=1380</div>
<svg class="a" style="left:129px;top:470px" width="16" height="16" viewBox="0 0 16 16"><rect x="0.5" y="0.5" width="15" height="15" fill="#0a0a0c"/><rect x="1.5" y="1.5" width="13" height="13" fill="#0a7bd8"/><path d="M8 3.5V11" stroke="#f0f4ff" stroke-width="1.3"/><path d="M5.8 9.6L8 12.2L10.2 9.6Z" fill="#f0f4ff"/></svg>
<svg class="a" style="left:200px;top:470px" width="18" height="18" viewBox="0 0 18 18"><path d="M10.3 9.9L14.8 14.3" stroke="#78868e" stroke-width="2.5" stroke-linecap="round"/><circle cx="7" cy="6" r="4.4" fill="#9ccbef" stroke="#cfd8de" stroke-width="1.1"/><path d="M3.9 9.1A4.4 4.4 0 0 1 10.1 2.9Z" fill="#c2e2f8"/></svg>
<div class="t" style="left:-192.85000000000002px;width:600px;text-align:right;top:506.00px;font-size:14px;line-height:14px;color:#ccccdc;font-weight:400;will-change:transform;-webkit-text-stroke:0.2px #ccccdc;letter-spacing:0.15px">192.168.10.15</div>
<div class="t" style="left:-13.149999999999977px;width:600px;text-align:right;top:506.00px;font-size:14px;line-height:14px;color:#ccccdc;font-weight:400;will-change:transform;-webkit-text-stroke:0.2px #ccccdc;letter-spacing:0.15px">107.178.242.85</div>
<div class="t" style="left:70.89999999999998px;width:600px;text-align:right;top:506.00px;font-size:14px;line-height:14px;color:#ccccdc;font-weight:400;will-change:transform;-webkit-text-stroke:0.2px #ccccdc;letter-spacing:0.3px">56204</div>
<div class="t" style="left:158.89999999999998px;width:600px;text-align:right;top:506.00px;font-size:14px;line-height:14px;color:#ccccdc;font-weight:400;will-change:transform;-webkit-text-stroke:0.2px #ccccdc;letter-spacing:0.3px">443</div>
<div class="t" style="left:256.29999999999995px;width:600px;text-align:right;top:506.00px;font-size:14px;line-height:14px;color:#f5a84c;font-weight:400;will-change:transform;-webkit-text-stroke:0.2px #f5a84c;">53.8 ms</div>
<div class="t" style="left:376.4px;width:600px;text-align:right;top:506.00px;font-size:14px;line-height:14px;color:#73bf69;font-weight:400;will-change:transform;-webkit-text-stroke:0.2px #73bf69;">93.9 ms</div>
<div class="t" style="left:456.5999999999999px;width:600px;text-align:right;top:506.00px;font-size:14px;line-height:14px;color:#ccccdc;font-weight:400;will-change:transform;-webkit-text-stroke:0.2px #ccccdc;">8.81 kB</div>
<div class="t" style="left:536.5px;width:600px;text-align:right;top:506.00px;font-size:14px;line-height:14px;color:#ccccdc;font-weight:400;will-change:transform;-webkit-text-stroke:0.2px #ccccdc;">3.04 min</div>
<div class="t" style="left:735.4000000000001px;width:600px;text-align:right;top:506.00px;font-size:14px;line-height:14px;color:#ccccdc;font-weight:400;will-change:transform;-webkit-text-stroke:0.2px #ccccdc;letter-spacing:-0.42px">WS=8, SACK, MSS=1460</div>
<div class="t" style="left:934.3px;width:600px;text-align:right;top:506.00px;font-size:14px;line-height:14px;color:#ccccdc;font-weight:400;will-change:transform;-webkit-text-stroke:0.2px #ccccdc;letter-spacing:-0.42px">WS=7, SACK, MSS=1380</div>
<svg class="a" style="left:129px;top:505px" width="16" height="16" viewBox="0 0 16 16"><rect x="0.5" y="0.5" width="15" height="15" fill="#0a0a0c"/><rect x="1.5" y="1.5" width="13" height="13" fill="#0a7bd8"/><path d="M8 3.5V11" stroke="#f0f4ff" stroke-width="1.3"/><path d="M5.8 9.6L8 12.2L10.2 9.6Z" fill="#f0f4ff"/></svg>
<svg class="a" style="left:200px;top:505px" width="18" height="18" viewBox="0 0 18 18"><path d="M10.3 9.9L14.8 14.3" stroke="#78868e" stroke-width="2.5" stroke-linecap="round"/><circle cx="7" cy="6" r="4.4" fill="#9ccbef" stroke="#cfd8de" stroke-width="1.1"/><path d="M3.9 9.1A4.4 4.4 0 0 1 10.1 2.9Z" fill="#c2e2f8"/></svg>
<div class="a" style="left:97px;top:528px;width:1585px;height:33px;background:#22252b;border-top:1px solid #2a2d34"></div>
<div class="pg" style="left:1287px;width:32px;background:#26292f"></div>
<svg class="a" style="left:1297px;top:539px" width="12" height="12"><path d="M7.5 2.5L4 6L7.5 9.5" fill="none" stroke="#8e8f98" stroke-width="1.4"/></svg>
<div class="pg" style="left:1329px;width:23px;background:#3d71d9"></div>
<div class="t" style="left:940.5px;width:800px;text-align:center;top:539.00px;font-size:12px;line-height:12px;color:#ffffff;font-weight:400;-webkit-text-stroke:0.3px #ffffff">1</div>
<div class="pg" style="left:1362px;width:23px;background:#3d3f46"></div>
<div class="t" style="left:973.5px;width:800px;text-align:center;top:539.00px;font-size:12px;line-height:12px;color:#d4d4de;font-weight:400;-webkit-text-stroke:0.3px #d4d4de">2</div>
<div class="pg" style="left:1395px;width:23px;background:#3d3f46"></div>
<div class="t" style="left:1006.5px;width:800px;text-align:center;top:539.00px;font-size:12px;line-height:12px;color:#d4d4de;font-weight:400;-webkit-text-stroke:0.3px #d4d4de">3</div>
<div class="pg" style="left:1428px;width:23px;background:#3d3f46"></div>
<div class="t" style="left:1039.5px;width:800px;text-align:center;top:539.00px;font-size:12px;line-height:12px;color:#d4d4de;font-weight:400;-webkit-text-stroke:0.3px #d4d4de">4</div>
<div class="pg" style="left:1461px;width:23px;background:#3d3f46"></div>
<div class="t" style="left:1072.5px;width:800px;text-align:center;top:539.00px;font-size:12px;line-height:12px;color:#d4d4de;font-weight:400;-webkit-text-stroke:0.3px #d4d4de">5</div>
<div class="pg" style="left:1494px;width:23px;background:#3d3f46"></div>
<div class="t" style="left:1105.5px;width:800px;text-align:center;top:539.00px;font-size:12px;line-height:12px;color:#d4d4de;font-weight:400;-webkit-text-stroke:0.3px #d4d4de">6</div>
<div class="pg" style="left:1527px;width:23px;background:#3d3f46"></div>
<div class="t" style="left:1138.5px;width:800px;text-align:center;top:539.00px;font-size:12px;line-height:12px;color:#d4d4de;font-weight:400;-webkit-text-stroke:0.3px #d4d4de">7</div>
<div class="pg" style="left:1586px;width:30px"></div>
<div class="t" style="left:1201px;width:800px;text-align:center;top:539.00px;font-size:12px;line-height:12px;color:#d4d4de;font-weight:400;-webkit-text-stroke:0.3px #d4d4de">10</div>
<div class="pg" style="left:1626px;width:32px"></div>
<svg class="a" style="left:1636px;top:539px" width="12" height="12"><path d="M4.5 2.5L8 6L4.5 9.5" fill="none" stroke="#d4d4de" stroke-width="1.4"/></svg>
<div class="a" style="left:1561.8px;top:542.8px;width:2.4px;height:2.4px;border-radius:50%;background:#e0e0ea"></div>
<div class="a" style="left:1566.8px;top:542.8px;width:2.4px;height:2.4px;border-radius:50%;background:#e0e0ea"></div>
<div class="a" style="left:1571.8px;top:542.8px;width:2.4px;height:2.4px;border-radius:50%;background:#e0e0ea"></div>
<svg class="a" style="left:99px;top:580px" width="10" height="10"><path d="M1.5 3.2L4.5 6.2L7.5 3.2" fill="none" stroke="#ccccdc" stroke-width="1.5"/></svg>
<div class="t" style="left:112px;top:576.00px;font-size:16px;line-height:16px;color:#d8d9e6;font-weight:700;letter-spacing:-0.5px">TCP - Events</div>
<svg class="a" style="left:97px;top:609px" width="32" height="32"><path d="M0 0H32L0 32Z" fill="#25282e"/><rect x="6.6" y="4.9" width="2.3" height="2.2" fill="#b4b8c4"/><rect x="6.8" y="8.4" width="2.1" height="5.4" fill="#b4b8c4"/><rect x="5.7" y="8.4" width="1.3" height="1.1" fill="#b4b8c4"/><rect x="5.6" y="12.9" width="4.4" height="1.3" fill="#b4b8c4"/></svg>
<div class="t" style="left:920px;width:800px;text-align:center;top:617.60px;font-size:13.2px;line-height:13.2px;color:#d8d9e6;font-weight:700;">TCP events per flow start (per 30s interval)</div><div class="t" style="left:-174px;width:300px;text-align:right;top:660.30px;font-size:12px;line-height:12px;color:#c7c8d2;will-change:transform;-webkit-text-stroke:0.25px #c7c8d2">1 K</div>
<div class="t" style="left:-174px;width:300px;text-align:right;top:695.30px;font-size:12px;line-height:12px;color:#c7c8d2;will-change:transform;-webkit-text-stroke:0.25px #c7c8d2">1 K</div>
<div class="t" style="left:-174px;width:300px;text-align:right;top:729.30px;font-size:12px;line-height:12px;color:#c7c8d2;will-change:transform;-webkit-text-stroke:0.25px #c7c8d2">800</div>
<div class="t" style="left:-174px;width:300px;text-align:right;top:764.30px;font-size:12px;line-height:12px;color:#c7c8d2;will-change:transform;-webkit-text-stroke:0.25px #c7c8d2">600</div>
<div class="t" style="left:-174px;width:300px;text-align:right;top:799.30px;font-size:12px;line-height:12px;color:#c7c8d2;will-change:transform;-webkit-text-stroke:0.25px #c7c8d2">400</div>
<div class="t" style="left:-174px;width:300px;text-align:right;top:833.30px;font-size:12px;line-height:12px;color:#c7c8d2;will-change:transform;-webkit-text-stroke:0.25px #c7c8d2">200</div>
<div class="t" style="left:-174px;width:300px;text-align:right;top:868.30px;font-size:12px;line-height:12px;color:#c7c8d2;will-change:transform;-webkit-text-stroke:0.25px #c7c8d2">0</div>
<div class="t" style="left:47.50px;width:200px;text-align:center;top:882.80px;font-size:12px;line-height:12px;color:#c7c8d2;will-change:transform;-webkit-text-stroke:0.25px #c7c8d2">09:15</div>
<div class="t" style="left:206.81px;width:200px;text-align:center;top:882.80px;font-size:12px;line-height:12px;color:#c7c8d2;will-change:transform;-webkit-text-stroke:0.25px #c7c8d2">09:20</div>
<div class="t" style="left:366.12px;width:200px;text-align:center;top:882.80px;font-size:12px;line-height:12px;color:#c7c8d2;will-change:transform;-webkit-text-stroke:0.25px #c7c8d2">09:25</div>
<div class="t" style="left:525.43px;width:200px;text-align:center;top:882.80px;font-size:12px;line-height:12px;color:#c7c8d2;will-change:transform;-webkit-text-stroke:0.25px #c7c8d2">09:30</div>
<div class="t" style="left:684.74px;width:200px;text-align:center;top:882.80px;font-size:12px;line-height:12px;color:#c7c8d2;will-change:transform;-webkit-text-stroke:0.25px #c7c8d2">09:35</div>
<div class="t" style="left:844.05px;width:200px;text-align:center;top:882.80px;font-size:12px;line-height:12px;color:#c7c8d2;will-change:transform;-webkit-text-stroke:0.25px #c7c8d2">09:40</div>
<div class="t" style="left:1003.36px;width:200px;text-align:center;top:882.80px;font-size:12px;line-height:12px;color:#c7c8d2;will-change:transform;-webkit-text-stroke:0.25px #c7c8d2">09:45</div>
<div class="t" style="left:1162.67px;width:200px;text-align:center;top:882.80px;font-size:12px;line-height:12px;color:#c7c8d2;will-change:transform;-webkit-text-stroke:0.25px #c7c8d2">09:50</div>
<div class="t" style="left:1321.98px;width:200px;text-align:center;top:882.80px;font-size:12px;line-height:12px;color:#c7c8d2;will-change:transform;-webkit-text-stroke:0.25px #c7c8d2">09:55</div>
<div class="t" style="left:1481.29px;width:200px;text-align:center;top:882.80px;font-size:12px;line-height:12px;color:#c7c8d2;will-change:transform;-webkit-text-stroke:0.25px #c7c8d2">10:00</div>
<svg class="a" style="left:0;top:0" width="1682" height="915" viewBox="0 0 1682 915">
<defs>
<linearGradient id="gO" gradientUnits="userSpaceOnUse" x1="0" y1="660" x2="0" y2="874.4"><stop offset="0" stop-color="#FF780A" stop-opacity="1.0"/><stop offset="1" stop-color="#FF780A" stop-opacity="0"/></linearGradient>
<linearGradient id="gB" gradientUnits="userSpaceOnUse" x1="0" y1="660" x2="0" y2="874.4"><stop offset="0" stop-color="#8AB8FF" stop-opacity="1.0"/><stop offset="1" stop-color="#8AB8FF" stop-opacity="0"/></linearGradient>
<linearGradient id="gY" gradientUnits="userSpaceOnUse" x1="0" y1="660" x2="0" y2="874.4"><stop offset="0" stop-color="#F2CC0C" stop-opacity="1.0"/><stop offset="1" stop-color="#F2CC0C" stop-opacity="0"/></linearGradient>
<linearGradient id="gG" gradientUnits="userSpaceOnUse" x1="0" y1="660" x2="0" y2="874.4"><stop offset="0" stop-color="#73BF69" stop-opacity="1.0"/><stop offset="1" stop-color="#73BF69" stop-opacity="0"/></linearGradient>
<clipPath id="cp"><rect x="134" y="600" width="1548" height="276"/></clipPath>
</defs>
<path d="M132 666.5H1682" stroke="#2a2c31" stroke-width="1"/>
<path d="M132 701.5H1682" stroke="#2a2c31" stroke-width="1"/>
<path d="M132 735.5H1682" stroke="#2a2c31" stroke-width="1"/>
<path d="M132 770.5H1682" stroke="#2a2c31" stroke-width="1"/>
<path d="M132 805.5H1682" stroke="#2a2c31" stroke-width="1"/>
<path d="M132 839.5H1682" stroke="#2a2c31" stroke-width="1"/>
<path d="M132 874.5H1682" stroke="#2a2c31" stroke-width="1"/>
<path d="M147.5 666V879" stroke="#2a2c31" stroke-width="1"/>
<path d="M307.5 666V879" stroke="#2a2c31" stroke-width="1"/>
<path d="M466.5 666V879" stroke="#2a2c31" stroke-width="1"/>
<path d="M625.5 666V879" stroke="#2a2c31" stroke-width="1"/>
<path d="M785.5 666V879" stroke="#2a2c31" stroke-width="1"/>
<path d="M944.5 666V879" stroke="#2a2c31" stroke-width="1"/>
<path d="M1103.5 666V879" stroke="#2a2c31" stroke-width="1"/>
<path d="M1263.5 666V879" stroke="#2a2c31" stroke-width="1"/>
<path d="M1422.5 666V879" stroke="#2a2c31" stroke-width="1"/>
<path d="M1581.5 666V879" stroke="#2a2c31" stroke-width="1"/>
<g clip-path="url(#cp)">
<path d="M131.57,874.20C136.88,874.20 142.19,874.20 147.50,874.20C152.81,874.20 158.12,874.20 163.43,874.20C168.74,874.20 174.05,874.20 179.36,874.20C184.67,874.20 189.98,874.20 195.29,874.20C200.60,874.20 205.91,874.20 211.22,874.20C216.53,874.20 221.84,874.20 227.16,874.20C232.47,874.20 237.78,874.20 243.09,874.20C248.40,874.20 253.71,874.20 259.02,874.20C264.33,874.20 269.64,874.20 274.95,874.20C280.26,874.20 285.57,874.20 290.88,874.20C296.19,874.20 301.50,874.20 306.81,874.20C312.12,874.20 317.43,874.20 322.74,874.20C328.05,874.20 333.36,874.20 338.67,874.20C343.98,874.20 349.29,874.20 354.60,874.20C359.91,874.20 365.22,874.20 370.53,874.20C375.84,874.20 381.15,874.20 386.46,874.20C391.78,874.20 397.09,874.20 402.40,874.20C407.71,874.20 413.02,874.20 418.33,874.20C423.64,874.20 428.95,874.20 434.26,874.20C439.57,874.20 444.88,874.20 450.19,874.20C455.50,874.20 460.81,874.20 466.12,874.20C471.43,874.20 476.74,874.20 482.05,874.20C487.36,874.20 492.67,874.20 497.98,874.20C503.29,874.20 508.60,874.20 513.91,874.20C519.22,874.20 524.53,874.20 529.84,874.20C535.15,874.20 540.46,874.20 545.77,874.20C551.09,874.20 556.40,874.20 561.71,874.20C567.02,874.20 572.33,874.20 577.64,874.20C582.95,874.20 588.26,874.20 593.57,874.20C598.88,874.20 604.19,874.20 609.50,874.20C614.81,874.20 620.12,874.20 625.43,874.20C630.74,874.20 636.05,874.20 641.36,874.20C646.67,874.20 651.98,874.20 657.29,874.20C662.60,874.20 667.91,874.20 673.22,874.20C678.53,874.20 683.84,874.20 689.15,874.20C694.46,874.20 699.77,874.20 705.08,874.20C710.40,874.20 715.71,874.20 721.02,874.20C726.33,874.20 731.64,874.20 736.95,874.20C742.26,874.20 747.57,874.20 752.88,874.20C758.19,874.20 763.50,874.20 768.81,874.20C774.12,874.20 779.43,874.20 784.74,874.20C790.05,874.20 795.36,874.20 800.67,874.20C805.98,874.20 811.29,873.16 816.60,873.16C821.91,873.16 827.22,874.20 832.53,874.20C837.84,874.20 843.15,874.20 848.46,874.20C853.77,874.20 859.08,874.20 864.39,874.20C869.71,874.20 875.02,874.20 880.33,874.20C885.64,874.20 890.95,874.20 896.26,874.20C901.57,874.20 906.88,874.20 912.19,874.20C917.50,874.20 922.81,874.20 928.12,874.20C933.43,874.20 938.74,874.20 944.05,874.20C949.36,874.20 954.67,874.20 959.98,874.20C965.29,874.20 970.60,874.20 975.91,874.20C981.22,874.20 986.53,874.20 991.84,874.20C997.15,874.20 1002.46,874.20 1007.77,874.20C1013.08,874.20 1018.39,874.20 1023.70,874.20C1029.02,874.20 1034.33,874.20 1039.64,874.20C1044.95,874.20 1050.26,874.20 1055.57,874.20C1060.88,874.20 1066.19,874.20 1071.50,874.20C1076.81,874.20 1082.12,874.20 1087.43,874.20C1092.74,874.20 1098.05,874.20 1103.36,874.20C1108.67,874.20 1113.98,699.14 1119.29,699.14C1124.60,699.14 1129.91,874.20 1135.22,874.20C1140.53,874.20 1145.84,874.20 1151.15,874.20C1156.46,874.20 1161.77,874.20 1167.08,874.20C1172.39,874.20 1177.70,874.20 1183.01,874.20C1188.33,874.20 1193.64,874.20 1198.95,874.20C1204.26,874.20 1209.57,874.20 1214.88,874.20C1220.19,874.20 1225.50,874.20 1230.81,874.20C1236.12,874.20 1241.43,874.20 1246.74,874.20C1252.05,874.20 1257.36,874.20 1262.67,874.20C1267.98,874.20 1273.29,874.20 1278.60,874.20C1283.91,874.20 1289.22,874.20 1294.53,874.20C1299.84,874.20 1305.15,874.20 1310.46,874.20C1315.77,874.20 1321.08,874.20 1326.39,874.20C1331.70,874.20 1337.01,874.20 1342.33,874.20C1347.64,874.20 1352.95,874.20 1358.26,874.20C1363.57,874.20 1368.88,874.20 1374.19,874.20C1379.50,874.20 1384.81,874.20 1390.12,874.20C1395.43,874.20 1400.74,874.20 1406.05,874.20C1411.36,874.20 1416.67,874.20 1421.98,874.20C1427.29,874.20 1432.60,874.20 1437.91,874.20C1443.22,874.20 1448.53,874.20 1453.84,874.20C1459.15,874.20 1464.46,874.20 1469.77,874.20C1475.08,874.20 1480.39,874.20 1485.70,874.20C1491.01,874.20 1496.32,874.20 1501.63,874.20C1506.95,874.20 1512.26,874.20 1517.57,874.20C1522.88,874.20 1528.19,874.20 1533.50,874.20C1538.81,874.20 1544.12,874.20 1549.43,874.20C1554.74,874.20 1560.05,874.20 1565.36,874.20C1570.67,874.20 1575.98,874.20 1581.29,874.20C1586.60,874.20 1591.91,874.20 1597.22,874.20C1602.53,874.20 1607.84,874.20 1613.15,874.20C1618.46,874.20 1623.77,874.20 1629.08,874.20C1634.39,874.20 1639.70,874.20 1645.01,874.20C1650.32,874.20 1655.63,874.20 1660.94,874.20C1666.26,874.20 1671.57,874.20 1676.88,874.20C1682.19,874.20 1687.50,874.20 1692.81,874.20C1698.12,874.20 1703.43,874.20 1708.74,874.20L1708.74,874.20L131.57,874.20Z" fill="url(#gG)"/>
<path d="M131.57,874.20C136.88,874.20 142.19,874.20 147.50,874.20C152.81,874.20 158.12,874.20 163.43,874.20C168.74,874.20 174.05,874.20 179.36,874.20C184.67,874.20 189.98,874.20 195.29,874.20C200.60,874.20 205.91,874.20 211.22,874.20C216.53,874.20 221.84,874.20 227.16,874.20C232.47,874.20 237.78,874.20 243.09,874.20C248.40,874.20 253.71,874.20 259.02,874.20C264.33,874.20 269.64,874.20 274.95,874.20C280.26,874.20 285.57,874.20 290.88,874.20C296.19,874.20 301.50,874.20 306.81,874.20C312.12,874.20 317.43,874.20 322.74,874.20C328.05,874.20 333.36,874.20 338.67,874.20C343.98,874.20 349.29,874.20 354.60,874.20C359.91,874.20 365.22,874.20 370.53,874.20C375.84,874.20 381.15,874.20 386.46,874.20C391.78,874.20 397.09,874.20 402.40,874.20C407.71,874.20 413.02,874.20 418.33,874.20C423.64,874.20 428.95,874.20 434.26,874.20C439.57,874.20 444.88,874.20 450.19,874.20C455.50,874.20 460.81,874.20 466.12,874.20C471.43,874.20 476.74,874.20 482.05,874.20C487.36,874.20 492.67,874.20 497.98,874.20C503.29,874.20 508.60,874.20 513.91,874.20C519.22,874.20 524.53,874.20 529.84,874.20C535.15,874.20 540.46,874.20 545.77,874.20C551.09,874.20 556.40,874.20 561.71,874.20C567.02,874.20 572.33,874.20 577.64,874.20C582.95,874.20 588.26,874.20 593.57,874.20C598.88,874.20 604.19,874.20 609.50,874.20C614.81,874.20 620.12,874.20 625.43,874.20C630.74,874.20 636.05,874.20 641.36,874.20C646.67,874.20 651.98,874.20 657.29,874.20C662.60,874.20 667.91,874.20 673.22,874.20C678.53,874.20 683.84,874.20 689.15,874.20C694.46,874.20 699.77,874.20 705.08,874.20C710.40,874.20 715.71,874.20 721.02,874.20C726.33,874.20 731.64,874.20 736.95,874.20C742.26,874.20 747.57,874.20 752.88,874.20C758.19,874.20 763.50,874.20 768.81,874.20C774.12,874.20 779.43,874.20 784.74,874.20C790.05,874.20 795.36,874.20 800.67,874.20C805.98,874.20 811.29,873.16 816.60,873.16C821.91,873.16 827.22,874.20 832.53,874.20C837.84,874.20 843.15,874.20 848.46,874.20C853.77,874.20 859.08,874.20 864.39,874.20C869.71,874.20 875.02,874.20 880.33,874.20C885.64,874.20 890.95,874.20 896.26,874.20C901.57,874.20 906.88,874.20 912.19,874.20C917.50,874.20 922.81,874.20 928.12,874.20C933.43,874.20 938.74,874.20 944.05,874.20C949.36,874.20 954.67,874.20 959.98,874.20C965.29,874.20 970.60,874.20 975.91,874.20C981.22,874.20 986.53,874.20 991.84,874.20C997.15,874.20 1002.46,874.20 1007.77,874.20C1013.08,874.20 1018.39,874.20 1023.70,874.20C1029.02,874.20 1034.33,874.20 1039.64,874.20C1044.95,874.20 1050.26,874.20 1055.57,874.20C1060.88,874.20 1066.19,874.20 1071.50,874.20C1076.81,874.20 1082.12,874.20 1087.43,874.20C1092.74,874.20 1098.05,874.20 1103.36,874.20C1108.67,874.20 1113.98,699.14 1119.29,699.14C1124.60,699.14 1129.91,874.20 1135.22,874.20C1140.53,874.20 1145.84,874.20 1151.15,874.20C1156.46,874.20 1161.77,874.20 1167.08,874.20C1172.39,874.20 1177.70,874.20 1183.01,874.20C1188.33,874.20 1193.64,874.20 1198.95,874.20C1204.26,874.20 1209.57,874.20 1214.88,874.20C1220.19,874.20 1225.50,874.20 1230.81,874.20C1236.12,874.20 1241.43,874.20 1246.74,874.20C1252.05,874.20 1257.36,874.20 1262.67,874.20C1267.98,874.20 1273.29,874.20 1278.60,874.20C1283.91,874.20 1289.22,874.20 1294.53,874.20C1299.84,874.20 1305.15,874.20 1310.46,874.20C1315.77,874.20 1321.08,874.20 1326.39,874.20C1331.70,874.20 1337.01,874.20 1342.33,874.20C1347.64,874.20 1352.95,874.20 1358.26,874.20C1363.57,874.20 1368.88,874.20 1374.19,874.20C1379.50,874.20 1384.81,874.20 1390.12,874.20C1395.43,874.20 1400.74,874.20 1406.05,874.20C1411.36,874.20 1416.67,874.20 1421.98,874.20C1427.29,874.20 1432.60,874.20 1437.91,874.20C1443.22,874.20 1448.53,874.20 1453.84,874.20C1459.15,874.20 1464.46,874.20 1469.77,874.20C1475.08,874.20 1480.39,874.20 1485.70,874.20C1491.01,874.20 1496.32,874.20 1501.63,874.20C1506.95,874.20 1512.26,874.20 1517.57,874.20C1522.88,874.20 1528.19,874.20 1533.50,874.20C1538.81,874.20 1544.12,874.20 1549.43,874.20C1554.74,874.20 1560.05,874.20 1565.36,874.20C1570.67,874.20 1575.98,874.20 1581.29,874.20C1586.60,874.20 1591.91,874.20 1597.22,874.20C1602.53,874.20 1607.84,874.20 1613.15,874.20C1618.46,874.20 1623.77,874.20 1629.08,874.20C1634.39,874.20 1639.70,874.20 1645.01,874.20C1650.32,874.20 1655.63,874.20 1660.94,874.20C1666.26,874.20 1671.57,874.20 1676.88,874.20C1682.19,874.20 1687.50,874.20 1692.81,874.20C1698.12,874.20 1703.43,874.20 1708.74,874.20" fill="none" stroke="#73BF69" stroke-width="1.5"/>
<path d="M131.57,874.20C136.88,874.20 142.19,874.20 147.50,874.20C152.81,874.20 158.12,874.20 163.43,874.20C168.74,874.20 174.05,874.20 179.36,874.20C184.67,874.20 189.98,874.20 195.29,874.20C200.60,874.20 205.91,874.20 211.22,874.20C216.53,874.20 221.84,874.20 227.16,874.20C232.47,874.20 237.78,874.20 243.09,874.20C248.40,874.20 253.71,874.20 259.02,874.20C264.33,874.20 269.64,874.20 274.95,874.20C280.26,874.20 285.57,874.20 290.88,874.20C296.19,874.20 301.50,874.20 306.81,874.20C312.12,874.20 317.43,874.20 322.74,874.20C328.05,874.20 333.36,874.20 338.67,874.20C343.98,874.20 349.29,874.20 354.60,874.20C359.91,874.20 365.22,874.20 370.53,874.20C375.84,874.20 381.15,874.20 386.46,874.20C391.78,874.20 397.09,874.20 402.40,874.20C407.71,874.20 413.02,874.20 418.33,874.20C423.64,874.20 428.95,874.20 434.26,874.20C439.57,874.20 444.88,874.20 450.19,874.20C455.50,874.20 460.81,874.20 466.12,874.20C471.43,874.20 476.74,874.20 482.05,874.20C487.36,874.20 492.67,874.20 497.98,874.20C503.29,874.20 508.60,874.20 513.91,874.20C519.22,874.20 524.53,874.20 529.84,874.20C535.15,874.20 540.46,874.20 545.77,874.20C551.09,874.20 556.40,874.20 561.71,874.20C567.02,874.20 572.33,874.20 577.64,874.20C582.95,874.20 588.26,874.20 593.57,874.20C598.88,874.20 604.19,874.20 609.50,874.20C614.81,874.20 620.12,874.20 625.43,874.20C630.74,874.20 636.05,874.20 641.36,874.20C646.67,874.20 651.98,874.20 657.29,874.20C662.60,874.20 667.91,874.20 673.22,874.20C678.53,874.20 683.84,873.87 689.15,873.51C694.46,873.15 699.77,871.08 705.08,871.08C710.40,871.08 715.71,874.20 721.02,874.20C726.33,874.20 731.64,874.20 736.95,874.20C742.26,874.20 747.57,874.20 752.88,874.20C758.19,874.20 763.50,874.20 768.81,874.20C774.12,874.20 779.43,874.20 784.74,874.20C790.05,874.20 795.36,874.20 800.67,874.20C805.98,874.20 811.29,874.20 816.60,874.20C821.91,874.20 827.22,874.20 832.53,874.20C837.84,874.20 843.15,874.20 848.46,874.20C853.77,874.20 859.08,874.20 864.39,874.20C869.71,874.20 875.02,874.20 880.33,874.20C885.64,874.20 890.95,874.20 896.26,874.20C901.57,874.20 906.88,874.20 912.19,874.20C917.50,874.20 922.81,874.20 928.12,874.20C933.43,874.20 938.74,872.66 944.05,872.47C949.36,872.27 954.67,872.12 959.98,872.12C965.29,872.12 970.60,872.51 975.91,872.81C981.22,873.12 986.53,874.20 991.84,874.20C997.15,874.20 1002.46,874.20 1007.77,874.20C1013.08,874.20 1018.39,874.20 1023.70,874.20C1029.02,874.20 1034.33,874.20 1039.64,874.20C1044.95,874.20 1050.26,874.20 1055.57,874.20C1060.88,874.20 1066.19,874.20 1071.50,874.20C1076.81,874.20 1082.12,874.20 1087.43,874.20C1092.74,874.20 1098.05,874.20 1103.36,874.20C1108.67,874.20 1113.98,706.07 1119.29,706.07C1124.60,706.07 1129.91,874.20 1135.22,874.20C1140.53,874.20 1145.84,874.20 1151.15,874.20C1156.46,874.20 1161.77,874.20 1167.08,874.20C1172.39,874.20 1177.70,874.20 1183.01,874.20C1188.33,874.20 1193.64,874.20 1198.95,874.20C1204.26,874.20 1209.57,874.20 1214.88,874.20C1220.19,874.20 1225.50,874.20 1230.81,874.20C1236.12,874.20 1241.43,874.20 1246.74,874.20C1252.05,874.20 1257.36,873.98 1262.67,873.68C1267.98,873.38 1273.29,870.21 1278.60,870.21C1283.91,870.21 1289.22,874.20 1294.53,874.20C1299.84,874.20 1305.15,874.20 1310.46,874.20C1315.77,874.20 1321.08,874.20 1326.39,874.20C1331.70,874.20 1337.01,874.20 1342.33,874.20C1347.64,874.20 1352.95,874.20 1358.26,874.20C1363.57,874.20 1368.88,874.20 1374.19,874.20C1379.50,874.20 1384.81,874.20 1390.12,874.20C1395.43,874.20 1400.74,874.20 1406.05,874.20C1411.36,874.20 1416.67,874.20 1421.98,874.20C1427.29,874.20 1432.60,874.20 1437.91,874.20C1443.22,874.20 1448.53,874.20 1453.84,874.20C1459.15,874.20 1464.46,874.20 1469.77,874.20C1475.08,874.20 1480.39,874.20 1485.70,874.20C1491.01,874.20 1496.32,874.20 1501.63,874.20C1506.95,874.20 1512.26,874.20 1517.57,874.20C1522.88,874.20 1528.19,874.20 1533.50,874.20C1538.81,874.20 1544.12,874.20 1549.43,874.20C1554.74,874.20 1560.05,874.20 1565.36,874.20C1570.67,874.20 1575.98,874.20 1581.29,874.20C1586.60,874.20 1591.91,874.20 1597.22,874.20C1602.53,874.20 1607.84,874.20 1613.15,874.20C1618.46,874.20 1623.77,874.20 1629.08,874.20C1634.39,874.20 1639.70,874.20 1645.01,874.20C1650.32,874.20 1655.63,874.20 1660.94,874.20C1666.26,874.20 1671.57,873.12 1676.88,872.81C1682.19,872.51 1687.50,872.12 1692.81,872.12C1698.12,872.12 1703.43,873.51 1708.74,874.20L1708.74,874.20L131.57,874.20Z" fill="url(#gY)"/>
<path d="M131.57,874.20C136.88,874.20 142.19,874.20 147.50,874.20C152.81,874.20 158.12,874.20 163.43,874.20C168.74,874.20 174.05,874.20 179.36,874.20C184.67,874.20 189.98,874.20 195.29,874.20C200.60,874.20 205.91,874.20 211.22,874.20C216.53,874.20 221.84,874.20 227.16,874.20C232.47,874.20 237.78,874.20 243.09,874.20C248.40,874.20 253.71,874.20 259.02,874.20C264.33,874.20 269.64,874.20 274.95,874.20C280.26,874.20 285.57,874.20 290.88,874.20C296.19,874.20 301.50,874.20 306.81,874.20C312.12,874.20 317.43,874.20 322.74,874.20C328.05,874.20 333.36,874.20 338.67,874.20C343.98,874.20 349.29,874.20 354.60,874.20C359.91,874.20 365.22,874.20 370.53,874.20C375.84,874.20 381.15,874.20 386.46,874.20C391.78,874.20 397.09,874.20 402.40,874.20C407.71,874.20 413.02,874.20 418.33,874.20C423.64,874.20 428.95,874.20 434.26,874.20C439.57,874.20 444.88,874.20 450.19,874.20C455.50,874.20 460.81,874.20 466.12,874.20C471.43,874.20 476.74,874.20 482.05,874.20C487.36,874.20 492.67,874.20 497.98,874.20C503.29,874.20 508.60,874.20 513.91,874.20C519.22,874.20 524.53,874.20 529.84,874.20C535.15,874.20 540.46,874.20 545.77,874.20C551.09,874.20 556.40,874.20 561.71,874.20C567.02,874.20 572.33,874.20 577.64,874.20C582.95,874.20 588.26,874.20 593.57,874.20C598.88,874.20 604.19,874.20 609.50,874.20C614.81,874.20 620.12,874.20 625.43,874.20C630.74,874.20 636.05,874.20 641.36,874.20C646.67,874.20 651.98,874.20 657.29,874.20C662.60,874.20 667.91,874.20 673.22,874.20C678.53,874.20 683.84,873.87 689.15,873.51C694.46,873.15 699.77,871.08 705.08,871.08C710.40,871.08 715.71,874.20 721.02,874.20C726.33,874.20 731.64,874.20 736.95,874.20C742.26,874.20 747.57,874.20 752.88,874.20C758.19,874.20 763.50,874.20 768.81,874.20C774.12,874.20 779.43,874.20 784.74,874.20C790.05,874.20 795.36,874.20 800.67,874.20C805.98,874.20 811.29,874.20 816.60,874.20C821.91,874.20 827.22,874.20 832.53,874.20C837.84,874.20 843.15,874.20 848.46,874.20C853.77,874.20 859.08,874.20 864.39,874.20C869.71,874.20 875.02,874.20 880.33,874.20C885.64,874.20 890.95,874.20 896.26,874.20C901.57,874.20 906.88,874.20 912.19,874.20C917.50,874.20 922.81,874.20 928.12,874.20C933.43,874.20 938.74,872.66 944.05,872.47C949.36,872.27 954.67,872.12 959.98,872.12C965.29,872.12 970.60,872.51 975.91,872.81C981.22,873.12 986.53,874.20 991.84,874.20C997.15,874.20 1002.46,874.20 1007.77,874.20C1013.08,874.20 1018.39,874.20 1023.70,874.20C1029.02,874.20 1034.33,874.20 1039.64,874.20C1044.95,874.20 1050.26,874.20 1055.57,874.20C1060.88,874.20 1066.19,874.20 1071.50,874.20C1076.81,874.20 1082.12,874.20 1087.43,874.20C1092.74,874.20 1098.05,874.20 1103.36,874.20C1108.67,874.20 1113.98,706.07 1119.29,706.07C1124.60,706.07 1129.91,874.20 1135.22,874.20C1140.53,874.20 1145.84,874.20 1151.15,874.20C1156.46,874.20 1161.77,874.20 1167.08,874.20C1172.39,874.20 1177.70,874.20 1183.01,874.20C1188.33,874.20 1193.64,874.20 1198.95,874.20C1204.26,874.20 1209.57,874.20 1214.88,874.20C1220.19,874.20 1225.50,874.20 1230.81,874.20C1236.12,874.20 1241.43,874.20 1246.74,874.20C1252.05,874.20 1257.36,873.98 1262.67,873.68C1267.98,873.38 1273.29,870.21 1278.60,870.21C1283.91,870.21 1289.22,874.20 1294.53,874.20C1299.84,874.20 1305.15,874.20 1310.46,874.20C1315.77,874.20 1321.08,874.20 1326.39,874.20C1331.70,874.20 1337.01,874.20 1342.33,874.20C1347.64,874.20 1352.95,874.20 1358.26,874.20C1363.57,874.20 1368.88,874.20 1374.19,874.20C1379.50,874.20 1384.81,874.20 1390.12,874.20C1395.43,874.20 1400.74,874.20 1406.05,874.20C1411.36,874.20 1416.67,874.20 1421.98,874.20C1427.29,874.20 1432.60,874.20 1437.91,874.20C1443.22,874.20 1448.53,874.20 1453.84,874.20C1459.15,874.20 1464.46,874.20 1469.77,874.20C1475.08,874.20 1480.39,874.20 1485.70,874.20C1491.01,874.20 1496.32,874.20 1501.63,874.20C1506.95,874.20 1512.26,874.20 1517.57,874.20C1522.88,874.20 1528.19,874.20 1533.50,874.20C1538.81,874.20 1544.12,874.20 1549.43,874.20C1554.74,874.20 1560.05,874.20 1565.36,874.20C1570.67,874.20 1575.98,874.20 1581.29,874.20C1586.60,874.20 1591.91,874.20 1597.22,874.20C1602.53,874.20 1607.84,874.20 1613.15,874.20C1618.46,874.20 1623.77,874.20 1629.08,874.20C1634.39,874.20 1639.70,874.20 1645.01,874.20C1650.32,874.20 1655.63,874.20 1660.94,874.20C1666.26,874.20 1671.57,873.12 1676.88,872.81C1682.19,872.51 1687.50,872.12 1692.81,872.12C1698.12,872.12 1703.43,873.51 1708.74,874.20" fill="none" stroke="#F2CC0C" stroke-width="1.5"/>
<path d="M131.57,874.20C136.88,874.08 142.19,873.93 147.50,873.85C152.81,873.78 158.12,873.68 163.43,873.68C168.74,873.68 174.05,873.85 179.36,873.85C184.67,873.85 189.98,866.05 195.29,866.05C200.60,866.05 205.91,868.65 211.22,869.17C216.53,869.69 221.84,869.70 227.16,870.21C232.47,870.73 237.78,872.65 243.09,873.16C248.40,873.67 253.71,874.20 259.02,874.20C264.33,874.20 269.64,872.12 274.95,872.12C280.26,872.12 285.57,872.12 290.88,872.12C296.19,872.12 301.50,869.00 306.81,869.00C312.12,869.00 317.43,873.68 322.74,873.68C328.05,873.68 333.36,870.21 338.67,870.21C343.98,870.21 349.29,873.51 354.60,873.51C359.91,873.51 365.22,865.57 370.53,864.15C375.84,862.72 381.15,861.37 386.46,861.37C391.78,861.37 397.09,873.51 402.40,873.51C407.71,873.51 413.02,871.43 418.33,871.43C423.64,871.43 428.95,873.51 434.26,873.51C439.57,873.51 444.88,873.51 450.19,873.51C455.50,873.51 460.81,866.92 466.12,866.92C471.43,866.92 476.74,873.51 482.05,873.51C487.36,873.51 492.67,865.36 497.98,864.15C503.29,862.94 508.60,861.89 513.91,861.89C519.22,861.89 524.53,873.51 529.84,873.51C535.15,873.51 540.46,869.00 545.77,869.00C551.09,869.00 556.40,872.81 561.71,872.81C567.02,872.81 572.33,872.81 577.64,872.81C582.95,872.81 588.26,872.19 593.57,871.43C598.88,870.66 604.19,864.84 609.50,864.84C614.81,864.84 620.12,873.51 625.43,873.51C630.74,873.51 636.05,871.62 641.36,871.43C646.67,871.23 651.98,871.08 657.29,871.08C662.60,871.08 667.91,873.51 673.22,873.51C678.53,873.51 683.84,873.51 689.15,873.51C694.46,873.51 699.77,871.04 705.08,869.00C710.40,866.96 715.71,861.56 721.02,859.47C726.33,857.37 731.64,854.79 736.95,854.79C742.26,854.79 747.57,870.99 752.88,871.95C758.19,872.90 763.50,873.51 768.81,873.51C774.12,873.51 779.43,873.51 784.74,873.51C790.05,873.51 795.36,862.93 800.67,862.93C805.98,862.93 811.29,870.86 816.60,871.08C821.91,871.30 827.22,871.23 832.53,871.43C837.84,871.62 843.15,873.51 848.46,873.51C853.77,873.51 859.08,873.51 864.39,873.51C869.71,873.51 875.02,873.51 880.33,873.51C885.64,873.51 890.95,871.43 896.26,871.43C901.57,871.43 906.88,873.51 912.19,873.51C917.50,873.51 922.81,868.08 928.12,864.15C933.43,860.21 938.74,848.20 944.05,848.20C949.36,848.20 954.67,869.00 959.98,869.00C965.29,869.00 970.60,868.48 975.91,868.48C981.22,868.48 986.53,873.51 991.84,873.51C997.15,873.51 1002.46,872.47 1007.77,872.47C1013.08,872.47 1018.39,873.51 1023.70,873.51C1029.02,873.51 1034.33,860.33 1039.64,860.33C1044.95,860.33 1050.26,868.29 1055.57,869.00C1060.88,869.71 1066.19,870.21 1071.50,870.21C1076.81,870.21 1082.12,856.52 1087.43,856.52C1092.74,856.52 1098.05,873.51 1103.36,873.51C1108.67,873.51 1113.98,871.95 1119.29,871.95C1124.60,871.95 1129.91,871.95 1135.22,871.95C1140.53,871.95 1145.84,873.51 1151.15,873.51C1156.46,873.51 1161.77,857.04 1167.08,857.04C1172.39,857.04 1177.70,873.51 1183.01,873.51C1188.33,873.51 1193.64,858.95 1198.95,858.95C1204.26,858.95 1209.57,873.51 1214.88,873.51C1220.19,873.51 1225.50,860.16 1230.81,860.16C1236.12,860.16 1241.43,865.52 1246.74,867.27C1252.05,869.02 1257.36,871.43 1262.67,871.43C1267.98,871.43 1273.29,864.15 1278.60,864.15C1283.91,864.15 1289.22,873.51 1294.53,873.51C1299.84,873.51 1305.15,869.00 1310.46,869.00C1315.77,869.00 1321.08,870.02 1326.39,870.73C1331.70,871.44 1337.01,873.51 1342.33,873.51C1347.64,873.51 1352.95,870.73 1358.26,870.73C1363.57,870.73 1368.88,873.51 1374.19,873.51C1379.50,873.51 1384.81,873.51 1390.12,873.51C1395.43,873.51 1400.74,869.52 1406.05,869.52C1411.36,869.52 1416.67,870.44 1421.98,870.73C1427.29,871.03 1432.60,871.43 1437.91,871.43C1443.22,871.43 1448.53,870.93 1453.84,870.73C1459.15,870.54 1464.46,870.21 1469.77,870.21C1475.08,870.21 1480.39,872.81 1485.70,872.81C1491.01,872.81 1496.32,872.12 1501.63,872.12C1506.95,872.12 1512.26,872.81 1517.57,872.81C1522.88,872.81 1528.19,872.81 1533.50,872.81C1538.81,872.81 1544.12,870.96 1549.43,869.52C1554.74,868.08 1560.05,863.28 1565.36,863.28C1570.67,863.28 1575.98,870.91 1581.29,870.91C1586.60,870.91 1591.91,864.84 1597.22,864.84C1602.53,864.84 1607.84,870.59 1613.15,870.91C1618.46,871.23 1623.77,871.16 1629.08,871.43C1634.39,871.69 1639.70,873.16 1645.01,873.16C1650.32,873.16 1655.63,873.03 1660.94,872.81C1666.26,872.60 1671.57,867.51 1676.88,866.92C1682.19,866.33 1687.50,865.88 1692.81,865.88C1698.12,865.88 1703.43,871.43 1708.74,874.20L1708.74,874.20L131.57,874.20Z" fill="url(#gB)"/>
<path d="M131.57,874.20C136.88,874.08 142.19,873.93 147.50,873.85C152.81,873.78 158.12,873.68 163.43,873.68C168.74,873.68 174.05,873.85 179.36,873.85C184.67,873.85 189.98,866.05 195.29,866.05C200.60,866.05 205.91,868.65 211.22,869.17C216.53,869.69 221.84,869.70 227.16,870.21C232.47,870.73 237.78,872.65 243.09,873.16C248.40,873.67 253.71,874.20 259.02,874.20C264.33,874.20 269.64,872.12 274.95,872.12C280.26,872.12 285.57,872.12 290.88,872.12C296.19,872.12 301.50,869.00 306.81,869.00C312.12,869.00 317.43,873.68 322.74,873.68C328.05,873.68 333.36,870.21 338.67,870.21C343.98,870.21 349.29,873.51 354.60,873.51C359.91,873.51 365.22,865.57 370.53,864.15C375.84,862.72 381.15,861.37 386.46,861.37C391.78,861.37 397.09,873.51 402.40,873.51C407.71,873.51 413.02,871.43 418.33,871.43C423.64,871.43 428.95,873.51 434.26,873.51C439.57,873.51 444.88,873.51 450.19,873.51C455.50,873.51 460.81,866.92 466.12,866.92C471.43,866.92 476.74,873.51 482.05,873.51C487.36,873.51 492.67,865.36 497.98,864.15C503.29,862.94 508.60,861.89 513.91,861.89C519.22,861.89 524.53,873.51 529.84,873.51C535.15,873.51 540.46,869.00 545.77,869.00C551.09,869.00 556.40,872.81 561.71,872.81C567.02,872.81 572.33,872.81 577.64,872.81C582.95,872.81 588.26,872.19 593.57,871.43C598.88,870.66 604.19,864.84 609.50,864.84C614.81,864.84 620.12,873.51 625.43,873.51C630.74,873.51 636.05,871.62 641.36,871.43C646.67,871.23 651.98,871.08 657.29,871.08C662.60,871.08 667.91,873.51 673.22,873.51C678.53,873.51 683.84,873.51 689.15,873.51C694.46,873.51 699.77,871.04 705.08,869.00C710.40,866.96 715.71,861.56 721.02,859.47C726.33,857.37 731.64,854.79 736.95,854.79C742.26,854.79 747.57,870.99 752.88,871.95C758.19,872.90 763.50,873.51 768.81,873.51C774.12,873.51 779.43,873.51 784.74,873.51C790.05,873.51 795.36,862.93 800.67,862.93C805.98,862.93 811.29,870.86 816.60,871.08C821.91,871.30 827.22,871.23 832.53,871.43C837.84,871.62 843.15,873.51 848.46,873.51C853.77,873.51 859.08,873.51 864.39,873.51C869.71,873.51 875.02,873.51 880.33,873.51C885.64,873.51 890.95,871.43 896.26,871.43C901.57,871.43 906.88,873.51 912.19,873.51C917.50,873.51 922.81,868.08 928.12,864.15C933.43,860.21 938.74,848.20 944.05,848.20C949.36,848.20 954.67,869.00 959.98,869.00C965.29,869.00 970.60,868.48 975.91,868.48C981.22,868.48 986.53,873.51 991.84,873.51C997.15,873.51 1002.46,872.47 1007.77,872.47C1013.08,872.47 1018.39,873.51 1023.70,873.51C1029.02,873.51 1034.33,860.33 1039.64,860.33C1044.95,860.33 1050.26,868.29 1055.57,869.00C1060.88,869.71 1066.19,870.21 1071.50,870.21C1076.81,870.21 1082.12,856.52 1087.43,856.52C1092.74,856.52 1098.05,873.51 1103.36,873.51C1108.67,873.51 1113.98,871.95 1119.29,871.95C1124.60,871.95 1129.91,871.95 1135.22,871.95C1140.53,871.95 1145.84,873.51 1151.15,873.51C1156.46,873.51 1161.77,857.04 1167.08,857.04C1172.39,857.04 1177.70,873.51 1183.01,873.51C1188.33,873.51 1193.64,858.95 1198.95,858.95C1204.26,858.95 1209.57,873.51 1214.88,873.51C1220.19,873.51 1225.50,860.16 1230.81,860.16C1236.12,860.16 1241.43,865.52 1246.74,867.27C1252.05,869.02 1257.36,871.43 1262.67,871.43C1267.98,871.43 1273.29,864.15 1278.60,864.15C1283.91,864.15 1289.22,873.51 1294.53,873.51C1299.84,873.51 1305.15,869.00 1310.46,869.00C1315.77,869.00 1321.08,870.02 1326.39,870.73C1331.70,871.44 1337.01,873.51 1342.33,873.51C1347.64,873.51 1352.95,870.73 1358.26,870.73C1363.57,870.73 1368.88,873.51 1374.19,873.51C1379.50,873.51 1384.81,873.51 1390.12,873.51C1395.43,873.51 1400.74,869.52 1406.05,869.52C1411.36,869.52 1416.67,870.44 1421.98,870.73C1427.29,871.03 1432.60,871.43 1437.91,871.43C1443.22,871.43 1448.53,870.93 1453.84,870.73C1459.15,870.54 1464.46,870.21 1469.77,870.21C1475.08,870.21 1480.39,872.81 1485.70,872.81C1491.01,872.81 1496.32,872.12 1501.63,872.12C1506.95,872.12 1512.26,872.81 1517.57,872.81C1522.88,872.81 1528.19,872.81 1533.50,872.81C1538.81,872.81 1544.12,870.96 1549.43,869.52C1554.74,868.08 1560.05,863.28 1565.36,863.28C1570.67,863.28 1575.98,870.91 1581.29,870.91C1586.60,870.91 1591.91,864.84 1597.22,864.84C1602.53,864.84 1607.84,870.59 1613.15,870.91C1618.46,871.23 1623.77,871.16 1629.08,871.43C1634.39,871.69 1639.70,873.16 1645.01,873.16C1650.32,873.16 1655.63,873.03 1660.94,872.81C1666.26,872.60 1671.57,867.51 1676.88,866.92C1682.19,866.33 1687.50,865.88 1692.81,865.88C1698.12,865.88 1703.43,871.43 1708.74,874.20" fill="none" stroke="#8AB8FF" stroke-width="1.5"/>
<path d="M131.57,874.20C136.88,873.45 142.19,872.56 147.50,871.95C152.81,871.33 158.12,870.39 163.43,870.39C168.74,870.39 174.05,873.33 179.36,873.33C184.67,873.33 189.98,847.33 195.29,847.33C200.60,847.33 205.91,851.67 211.22,851.67C216.53,851.67 221.84,845.08 227.16,845.08C232.47,845.08 237.78,868.46 243.09,870.21C248.40,871.97 253.71,873.16 259.02,873.16C264.33,873.16 269.64,866.83 274.95,865.53C280.26,864.24 285.57,864.45 290.88,862.93C296.19,861.42 301.50,844.73 306.81,844.73C312.12,844.73 317.43,872.12 322.74,872.12C328.05,872.12 333.36,867.27 338.67,867.27C343.98,867.27 349.29,871.95 354.60,871.95C359.91,871.95 365.22,847.33 370.53,841.61C375.84,835.90 381.15,829.65 386.46,829.65C391.78,829.65 397.09,867.27 402.40,867.27C407.71,867.27 413.02,854.44 418.33,854.44C423.64,854.44 428.95,871.61 434.26,871.95C439.57,872.28 444.88,872.47 450.19,872.47C455.50,872.47 460.81,841.09 466.12,841.09C471.43,841.09 476.74,872.47 482.05,872.47C487.36,872.47 492.67,854.66 497.98,841.61C503.29,828.56 508.60,788.05 513.91,788.05C519.22,788.05 524.53,871.43 529.84,871.43C535.15,871.43 540.46,827.05 545.77,827.05C551.09,827.05 556.40,870.73 561.71,870.73C567.02,870.73 572.33,870.73 577.64,870.73C582.95,870.73 588.26,870.08 593.57,869.00C598.88,867.92 604.19,844.39 609.50,844.39C614.81,844.39 620.12,871.43 625.43,871.43C630.74,871.43 636.05,860.28 641.36,859.64C646.67,859.00 651.98,858.60 657.29,858.60C662.60,858.60 667.91,868.96 673.22,870.21C678.53,871.47 683.84,872.47 689.15,872.47C694.46,872.47 699.77,860.64 705.08,858.95C710.40,857.26 715.71,857.68 721.02,855.83C726.33,853.98 731.64,830.69 736.95,830.69C742.26,830.69 747.57,864.50 752.88,867.27C758.19,870.03 763.50,871.95 768.81,871.95C774.12,871.95 779.43,871.95 784.74,871.95C790.05,871.95 795.36,857.73 800.67,857.73C805.98,857.73 811.29,857.73 816.60,857.73C821.91,857.73 827.22,859.77 832.53,861.37C837.84,862.98 843.15,866.93 848.46,868.48C853.77,870.03 859.08,871.95 864.39,871.95C869.71,871.95 875.02,851.15 880.33,851.15C885.64,851.15 890.95,859.28 896.26,862.93C901.57,866.58 906.88,873.16 912.19,873.16C917.50,873.16 922.81,864.36 928.12,854.79C933.43,845.22 938.74,789.09 944.05,789.09C949.36,789.09 954.67,864.84 959.98,864.84C965.29,864.84 970.60,844.39 975.91,844.39C981.22,844.39 986.53,872.29 991.84,872.29C997.15,872.29 1002.46,870.53 1007.77,869.00C1013.08,867.47 1018.39,865.61 1023.70,861.37C1029.02,857.14 1034.33,823.24 1039.64,823.24C1044.95,823.24 1050.26,861.89 1055.57,861.89C1060.88,861.89 1066.19,855.82 1071.50,849.93C1076.81,844.04 1082.12,816.13 1087.43,816.13C1092.74,816.13 1098.05,868.48 1103.36,868.48C1108.67,868.48 1113.98,865.07 1119.29,862.93C1124.60,860.79 1129.91,855.31 1135.22,855.31C1140.53,855.31 1145.84,871.95 1151.15,871.95C1156.46,871.95 1161.77,824.45 1167.08,824.45C1172.39,824.45 1177.70,871.43 1183.01,871.43C1188.33,871.43 1193.64,827.40 1198.95,827.40C1204.26,827.40 1209.57,873.16 1214.88,873.16C1220.19,873.16 1225.50,823.24 1230.81,823.24C1236.12,823.24 1241.43,842.91 1246.74,846.47C1252.05,850.03 1257.36,853.40 1262.67,853.40C1267.98,853.40 1273.29,839.88 1278.60,839.88C1283.91,839.88 1289.22,871.43 1294.53,871.43C1299.84,871.43 1305.15,865.29 1310.46,864.15C1315.77,863.00 1321.08,861.89 1326.39,861.89C1331.70,861.89 1337.01,873.16 1342.33,873.16C1347.64,873.16 1352.95,844.04 1358.26,844.04C1363.57,844.04 1368.88,873.16 1374.19,873.16C1379.50,873.16 1384.81,870.31 1390.12,867.79C1395.43,865.26 1400.74,854.96 1406.05,854.96C1411.36,854.96 1416.67,862.03 1421.98,864.15C1427.29,866.26 1432.60,869.00 1437.91,869.00C1443.22,869.00 1448.53,848.89 1453.84,848.89C1459.15,848.89 1464.46,858.27 1469.77,862.07C1475.08,865.87 1480.39,872.12 1485.70,872.12C1491.01,872.12 1496.32,866.98 1501.63,866.23C1506.95,865.48 1512.26,864.84 1517.57,864.84C1522.88,864.84 1528.19,872.12 1533.50,872.12C1538.81,872.12 1544.12,862.50 1549.43,858.25C1554.74,854.01 1560.05,846.47 1565.36,846.47C1570.67,846.47 1575.98,849.07 1581.29,849.07C1586.60,849.07 1591.91,844.56 1597.22,844.56C1602.53,844.56 1607.84,865.75 1613.15,866.92C1618.46,868.09 1623.77,868.16 1629.08,868.83C1634.39,869.49 1639.70,870.91 1645.01,870.91C1650.32,870.91 1655.63,870.41 1660.94,869.52C1666.26,868.63 1671.57,833.29 1676.88,833.29C1682.19,833.29 1687.50,841.88 1692.81,848.20C1698.12,854.52 1703.43,865.53 1708.74,874.20L1708.74,874.20L131.57,874.20Z" fill="url(#gO)"/>
<path d="M131.57,874.20C136.88,873.45 142.19,872.56 147.50,871.95C152.81,871.33 158.12,870.39 163.43,870.39C168.74,870.39 174.05,873.33 179.36,873.33C184.67,873.33 189.98,847.33 195.29,847.33C200.60,847.33 205.91,851.67 211.22,851.67C216.53,851.67 221.84,845.08 227.16,845.08C232.47,845.08 237.78,868.46 243.09,870.21C248.40,871.97 253.71,873.16 259.02,873.16C264.33,873.16 269.64,866.83 274.95,865.53C280.26,864.24 285.57,864.45 290.88,862.93C296.19,861.42 301.50,844.73 306.81,844.73C312.12,844.73 317.43,872.12 322.74,872.12C328.05,872.12 333.36,867.27 338.67,867.27C343.98,867.27 349.29,871.95 354.60,871.95C359.91,871.95 365.22,847.33 370.53,841.61C375.84,835.90 381.15,829.65 386.46,829.65C391.78,829.65 397.09,867.27 402.40,867.27C407.71,867.27 413.02,854.44 418.33,854.44C423.64,854.44 428.95,871.61 434.26,871.95C439.57,872.28 444.88,872.47 450.19,872.47C455.50,872.47 460.81,841.09 466.12,841.09C471.43,841.09 476.74,872.47 482.05,872.47C487.36,872.47 492.67,854.66 497.98,841.61C503.29,828.56 508.60,788.05 513.91,788.05C519.22,788.05 524.53,871.43 529.84,871.43C535.15,871.43 540.46,827.05 545.77,827.05C551.09,827.05 556.40,870.73 561.71,870.73C567.02,870.73 572.33,870.73 577.64,870.73C582.95,870.73 588.26,870.08 593.57,869.00C598.88,867.92 604.19,844.39 609.50,844.39C614.81,844.39 620.12,871.43 625.43,871.43C630.74,871.43 636.05,860.28 641.36,859.64C646.67,859.00 651.98,858.60 657.29,858.60C662.60,858.60 667.91,868.96 673.22,870.21C678.53,871.47 683.84,872.47 689.15,872.47C694.46,872.47 699.77,860.64 705.08,858.95C710.40,857.26 715.71,857.68 721.02,855.83C726.33,853.98 731.64,830.69 736.95,830.69C742.26,830.69 747.57,864.50 752.88,867.27C758.19,870.03 763.50,871.95 768.81,871.95C774.12,871.95 779.43,871.95 784.74,871.95C790.05,871.95 795.36,857.73 800.67,857.73C805.98,857.73 811.29,857.73 816.60,857.73C821.91,857.73 827.22,859.77 832.53,861.37C837.84,862.98 843.15,866.93 848.46,868.48C853.77,870.03 859.08,871.95 864.39,871.95C869.71,871.95 875.02,851.15 880.33,851.15C885.64,851.15 890.95,859.28 896.26,862.93C901.57,866.58 906.88,873.16 912.19,873.16C917.50,873.16 922.81,864.36 928.12,854.79C933.43,845.22 938.74,789.09 944.05,789.09C949.36,789.09 954.67,864.84 959.98,864.84C965.29,864.84 970.60,844.39 975.91,844.39C981.22,844.39 986.53,872.29 991.84,872.29C997.15,872.29 1002.46,870.53 1007.77,869.00C1013.08,867.47 1018.39,865.61 1023.70,861.37C1029.02,857.14 1034.33,823.24 1039.64,823.24C1044.95,823.24 1050.26,861.89 1055.57,861.89C1060.88,861.89 1066.19,855.82 1071.50,849.93C1076.81,844.04 1082.12,816.13 1087.43,816.13C1092.74,816.13 1098.05,868.48 1103.36,868.48C1108.67,868.48 1113.98,865.07 1119.29,862.93C1124.60,860.79 1129.91,855.31 1135.22,855.31C1140.53,855.31 1145.84,871.95 1151.15,871.95C1156.46,871.95 1161.77,824.45 1167.08,824.45C1172.39,824.45 1177.70,871.43 1183.01,871.43C1188.33,871.43 1193.64,827.40 1198.95,827.40C1204.26,827.40 1209.57,873.16 1214.88,873.16C1220.19,873.16 1225.50,823.24 1230.81,823.24C1236.12,823.24 1241.43,842.91 1246.74,846.47C1252.05,850.03 1257.36,853.40 1262.67,853.40C1267.98,853.40 1273.29,839.88 1278.60,839.88C1283.91,839.88 1289.22,871.43 1294.53,871.43C1299.84,871.43 1305.15,865.29 1310.46,864.15C1315.77,863.00 1321.08,861.89 1326.39,861.89C1331.70,861.89 1337.01,873.16 1342.33,873.16C1347.64,873.16 1352.95,844.04 1358.26,844.04C1363.57,844.04 1368.88,873.16 1374.19,873.16C1379.50,873.16 1384.81,870.31 1390.12,867.79C1395.43,865.26 1400.74,854.96 1406.05,854.96C1411.36,854.96 1416.67,862.03 1421.98,864.15C1427.29,866.26 1432.60,869.00 1437.91,869.00C1443.22,869.00 1448.53,848.89 1453.84,848.89C1459.15,848.89 1464.46,858.27 1469.77,862.07C1475.08,865.87 1480.39,872.12 1485.70,872.12C1491.01,872.12 1496.32,866.98 1501.63,866.23C1506.95,865.48 1512.26,864.84 1517.57,864.84C1522.88,864.84 1528.19,872.12 1533.50,872.12C1538.81,872.12 1544.12,862.50 1549.43,858.25C1554.74,854.01 1560.05,846.47 1565.36,846.47C1570.67,846.47 1575.98,849.07 1581.29,849.07C1586.60,849.07 1591.91,844.56 1597.22,844.56C1602.53,844.56 1607.84,865.75 1613.15,866.92C1618.46,868.09 1623.77,868.16 1629.08,868.83C1634.39,869.49 1639.70,870.91 1645.01,870.91C1650.32,870.91 1655.63,870.41 1660.94,869.52C1666.26,868.63 1671.57,833.29 1676.88,833.29C1682.19,833.29 1687.50,841.88 1692.81,848.20C1698.12,854.52 1703.43,865.53 1708.74,874.20" fill="none" stroke="#FF780A" stroke-width="1.5"/>
<path d="M134 874.35H1682" stroke="#F2495C" stroke-width="1.3"/>
</g></svg></body></html>
